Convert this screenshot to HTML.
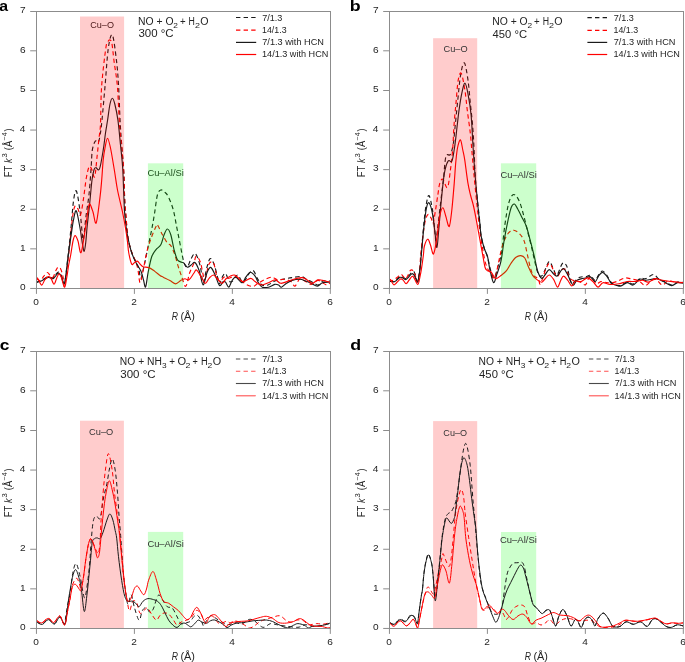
<!DOCTYPE html>
<html><head><meta charset="utf-8"><style>
html,body{margin:0;padding:0;background:#fff;overflow:hidden;}
svg{display:block;will-change:transform;font-family:"Liberation Sans", sans-serif;}
</style></head><body>
<svg width="685" height="662" viewBox="0 0 685 662">
<rect width="685" height="662" fill="#fff"/>
<clipPath id="c0_0"><rect x="36.5" y="11.5" width="294.0" height="277.0"/></clipPath>
<g clip-path="url(#c0_0)" fill="none" stroke-width="1.15" stroke-linejoin="round">
<path d="M36.50,282.50C37.13,282.25 39.08,281.58 40.30,281.00C41.52,280.42 42.53,279.70 43.80,279.00C45.07,278.30 46.73,277.05 47.90,276.80C49.07,276.55 49.93,277.33 50.80,277.50C51.67,277.67 52.32,278.22 53.10,277.80C53.88,277.38 54.62,275.97 55.50,275.00C56.38,274.03 57.43,271.92 58.40,272.00C59.37,272.08 60.37,273.50 61.30,275.50C62.23,277.50 63.30,283.58 64.00,284.00C64.70,284.42 65.00,281.17 65.50,278.00C66.00,274.83 66.50,269.33 67.00,265.00C67.50,260.67 67.83,258.17 68.50,252.00C69.17,245.83 70.17,236.50 71.00,228.00C71.83,219.50 72.62,207.18 73.50,201.00C74.38,194.82 75.23,189.37 76.30,190.90C77.37,192.43 78.90,203.02 79.90,210.20C80.90,217.38 81.70,229.20 82.30,234.00C82.90,238.80 82.88,241.97 83.50,239.00C84.12,236.03 85.08,223.62 86.00,216.20C86.92,208.78 88.15,202.48 89.00,194.50C89.85,186.52 90.55,175.68 91.10,168.30C91.65,160.92 91.60,154.73 92.30,150.20C93.00,145.67 94.30,142.42 95.30,141.10C96.30,139.78 97.48,143.40 98.30,142.30C99.12,141.20 99.58,138.22 100.20,134.50C100.82,130.78 101.20,127.98 102.00,120.00C102.80,112.02 103.95,98.55 105.00,86.60C106.05,74.65 107.07,56.90 108.30,48.30C109.53,39.70 111.02,32.78 112.40,35.00C113.78,37.22 115.57,53.00 116.60,61.60C117.63,70.20 118.00,76.37 118.60,86.60C119.20,96.83 119.62,112.40 120.20,123.00C120.78,133.60 121.48,141.65 122.10,150.20C122.72,158.75 123.47,166.00 123.90,174.30C124.33,182.60 124.35,192.72 124.70,200.00C125.05,207.28 125.45,211.67 126.00,218.00C126.55,224.33 127.07,232.33 128.00,238.00C128.93,243.67 130.28,248.00 131.60,252.00C132.92,256.00 134.72,259.28 135.90,262.00C137.08,264.72 137.87,265.58 138.70,268.30C139.53,271.02 139.93,279.02 140.90,278.30C141.87,277.58 143.30,269.27 144.50,264.00C145.70,258.73 146.90,252.45 148.10,246.70C149.30,240.95 150.63,235.00 151.70,229.50C152.77,224.00 153.55,219.45 154.50,213.70C155.45,207.95 156.35,198.95 157.40,195.00C158.45,191.05 159.62,190.50 160.80,190.00C161.98,189.50 163.25,190.90 164.50,192.00C165.75,193.10 166.83,193.62 168.30,196.60C169.77,199.58 171.92,204.92 173.30,209.90C174.68,214.88 175.50,220.97 176.60,226.50C177.70,232.03 178.80,237.57 179.90,243.10C181.00,248.63 182.23,255.82 183.20,259.70C184.17,263.58 184.87,265.43 185.70,266.40C186.53,267.37 187.32,266.73 188.20,265.50C189.08,264.27 189.80,260.97 191.00,259.00C192.20,257.03 193.85,252.48 195.40,253.70C196.95,254.92 199.02,261.47 200.30,266.30C201.58,271.13 202.00,282.52 203.10,282.70C204.20,282.88 205.72,271.42 206.90,267.40C208.08,263.38 209.02,259.15 210.20,258.60C211.38,258.05 212.82,261.18 214.00,264.10C215.18,267.02 216.38,272.82 217.30,276.10C218.22,279.38 218.68,283.62 219.50,283.80C220.32,283.98 221.20,278.93 222.20,277.20C223.20,275.47 224.40,272.85 225.50,273.40C226.60,273.95 227.70,279.13 228.80,280.50C229.90,281.87 230.63,282.52 232.10,281.60C233.57,280.68 235.78,274.90 237.60,275.00C239.42,275.10 241.00,282.55 243.00,282.20C245.00,281.85 247.85,274.82 249.60,272.90C251.35,270.98 252.22,269.80 253.50,270.70C254.78,271.60 255.88,275.92 257.30,278.30C258.72,280.68 260.22,283.88 262.00,285.00C263.78,286.12 265.83,285.67 268.00,285.00C270.17,284.33 272.12,282.03 275.00,281.00C277.88,279.97 282.45,279.37 285.30,278.80C288.15,278.23 289.47,277.98 292.10,277.60C294.73,277.22 298.67,276.22 301.10,276.50C303.53,276.78 304.65,278.27 306.70,279.30C308.75,280.33 311.52,281.75 313.40,282.70C315.28,283.65 316.40,285.28 318.00,285.00C319.60,284.72 321.03,281.67 323.00,281.00C324.97,280.33 328.67,281.00 329.80,281.00" stroke="#1a1a1a" stroke-dasharray="4.3 3.1"/>
<path d="M36.50,278.40C37.13,278.78 39.08,281.08 40.30,280.70C41.52,280.32 42.63,277.47 43.80,276.10C44.97,274.73 46.23,272.60 47.30,272.50C48.37,272.40 49.23,274.72 50.20,275.50C51.17,276.28 52.13,278.08 53.10,277.20C54.07,276.32 55.17,271.85 56.00,270.20C56.83,268.55 57.32,267.50 58.10,267.30C58.88,267.10 59.87,267.35 60.70,269.00C61.53,270.65 62.47,274.27 63.10,277.20C63.73,280.13 63.92,287.38 64.50,286.60C65.08,285.82 65.97,277.28 66.60,272.50C67.23,267.72 67.57,264.65 68.30,257.90C69.03,251.15 70.22,239.32 71.00,232.00C71.78,224.68 72.32,218.33 73.00,214.00C73.68,209.67 74.27,206.83 75.10,206.00C75.93,205.17 77.10,207.50 78.00,209.00C78.90,210.50 79.57,216.83 80.50,215.00C81.43,213.17 82.63,204.17 83.60,198.00C84.57,191.83 85.35,183.25 86.30,178.00C87.25,172.75 88.35,167.83 89.30,166.50C90.25,165.17 91.10,168.28 92.00,170.00C92.90,171.72 93.85,179.10 94.70,176.80C95.55,174.50 96.38,162.65 97.10,156.20C97.82,149.75 98.43,143.47 99.00,138.10C99.57,132.73 100.07,132.58 100.50,124.00C100.93,115.42 100.72,99.22 101.60,86.60C102.48,73.98 104.75,55.77 105.80,48.30C106.85,40.83 107.22,43.18 107.90,41.80C108.58,40.42 109.23,39.72 109.90,40.00C110.57,40.28 111.20,39.90 111.90,43.50C112.60,47.10 113.18,54.42 114.10,61.60C115.02,68.78 116.48,75.78 117.40,86.60C118.32,97.42 118.83,115.93 119.60,126.50C120.37,137.07 121.28,142.03 122.00,150.00C122.72,157.97 123.45,165.97 123.90,174.30C124.35,182.63 124.35,193.05 124.70,200.00C125.05,206.95 125.45,209.67 126.00,216.00C126.55,222.33 127.07,232.00 128.00,238.00C128.93,244.00 130.28,248.00 131.60,252.00C132.92,256.00 134.83,259.00 135.90,262.00C136.97,265.00 137.28,266.57 138.00,270.00C138.72,273.43 139.23,283.13 140.20,282.60C141.17,282.07 142.60,272.30 143.80,266.80C145.00,261.30 146.08,254.62 147.40,249.60C148.72,244.58 150.27,240.53 151.70,236.70C153.13,232.87 155.03,228.57 156.00,226.60C156.97,224.63 156.42,223.53 157.50,224.90C158.58,226.27 160.85,231.77 162.50,234.80C164.15,237.83 166.02,241.30 167.40,243.10C168.78,244.90 169.55,243.65 170.80,245.60C172.05,247.55 173.67,251.33 174.90,254.80C176.13,258.27 177.08,262.82 178.20,266.40C179.32,269.98 180.35,272.98 181.60,276.30C182.85,279.62 184.37,286.85 185.70,286.30C187.03,285.75 188.22,276.87 189.60,273.00C190.98,269.13 192.93,265.87 194.00,263.10C195.07,260.33 194.95,256.60 196.00,256.40C197.05,256.20 198.85,258.07 200.30,261.90C201.75,265.73 203.33,278.85 204.70,279.40C206.07,279.95 207.40,268.12 208.50,265.20C209.60,262.28 210.38,262.08 211.30,261.90C212.22,261.72 213.08,261.73 214.00,264.10C214.92,266.47 215.80,273.18 216.80,276.10C217.80,279.02 218.82,281.42 220.00,281.60C221.18,281.78 222.43,277.75 223.90,277.20C225.37,276.65 227.07,278.48 228.80,278.30C230.53,278.12 232.47,275.92 234.30,276.10C236.13,276.28 237.80,278.02 239.80,279.40C241.80,280.78 244.12,283.22 246.30,284.40C248.48,285.58 251.07,286.60 252.90,286.50C254.73,286.40 255.45,284.90 257.30,283.80C259.15,282.70 261.57,281.02 264.00,279.90C266.43,278.78 269.65,277.10 271.90,277.10C274.15,277.10 275.45,279.53 277.50,279.90C279.55,280.27 281.95,279.02 284.20,279.30C286.45,279.58 289.22,280.47 291.00,281.60C292.78,282.73 293.40,286.57 294.90,286.10C296.40,285.63 298.22,279.55 300.00,278.80C301.78,278.05 303.73,280.67 305.60,281.60C307.47,282.53 309.15,284.60 311.20,284.40C313.25,284.20 316.03,280.68 317.90,280.40C319.77,280.12 320.90,281.93 322.40,282.70C323.90,283.47 325.67,284.95 326.90,285.00C328.13,285.05 329.32,283.33 329.80,283.00" stroke="#ff0000" stroke-dasharray="4.3 3.1"/>
<path d="M36.50,281.90C37.13,281.80 39.08,281.68 40.30,281.30C41.52,280.92 42.53,280.23 43.80,279.60C45.07,278.97 46.73,277.75 47.90,277.50C49.07,277.25 49.93,277.90 50.80,278.10C51.67,278.30 52.32,279.03 53.10,278.70C53.88,278.37 54.62,277.03 55.50,276.10C56.38,275.17 57.43,273.02 58.40,273.10C59.37,273.18 60.38,274.83 61.30,276.60C62.22,278.37 63.22,283.40 63.90,283.70C64.58,284.00 64.90,281.23 65.40,278.40C65.90,275.57 66.42,270.60 66.90,266.70C67.38,262.80 67.62,260.12 68.30,255.00C68.98,249.88 70.13,241.83 71.00,236.00C71.87,230.17 72.62,224.20 73.50,220.00C74.38,215.80 75.22,209.47 76.30,210.80C77.38,212.13 78.97,222.47 80.00,228.00C81.03,233.53 81.80,240.12 82.50,244.00C83.20,247.88 83.65,251.63 84.20,251.30C84.75,250.97 85.30,246.23 85.80,242.00C86.30,237.77 86.57,232.20 87.20,225.90C87.83,219.60 88.80,211.85 89.60,204.20C90.40,196.55 91.25,185.78 92.00,180.00C92.75,174.22 93.45,171.55 94.10,169.50C94.75,167.45 95.00,167.80 95.90,167.70C96.80,167.60 98.28,171.82 99.50,168.90C100.72,165.98 102.20,156.18 103.20,150.20C104.20,144.22 104.77,138.03 105.50,133.00C106.23,127.97 106.85,124.83 107.60,120.00C108.35,115.17 109.20,107.63 110.00,104.00C110.80,100.37 111.60,98.20 112.40,98.20C113.20,98.20 113.88,100.37 114.80,104.00C115.72,107.63 116.95,113.17 117.90,120.00C118.85,126.83 119.70,136.95 120.50,145.00C121.30,153.05 122.05,157.57 122.70,168.30C123.35,179.03 123.85,199.78 124.40,209.40C124.95,219.02 125.40,221.22 126.00,226.00C126.60,230.78 127.07,233.68 128.00,238.10C128.93,242.52 130.28,248.43 131.60,252.50C132.92,256.57 134.35,259.40 135.90,262.50C137.45,265.60 139.63,268.18 140.90,271.10C142.17,274.02 142.72,277.35 143.50,280.00C144.28,282.65 144.83,288.23 145.60,287.00C146.37,285.77 147.08,277.63 148.10,272.60C149.12,267.57 150.38,260.63 151.70,256.80C153.02,252.97 154.48,251.60 156.00,249.60C157.52,247.60 159.45,247.27 160.80,244.80C162.15,242.33 163.00,237.43 164.10,234.80C165.20,232.17 166.28,229.00 167.40,229.00C168.52,229.00 169.68,231.33 170.80,234.80C171.92,238.27 173.00,245.65 174.10,249.80C175.20,253.95 176.15,257.63 177.40,259.70C178.65,261.77 180.50,261.63 181.60,262.20C182.70,262.77 183.03,262.27 184.00,263.10C184.97,263.93 186.15,266.93 187.40,267.20C188.65,267.47 190.25,265.48 191.50,264.70C192.75,263.92 193.62,261.50 194.90,262.50C196.18,263.50 197.83,266.97 199.20,270.70C200.57,274.43 201.82,284.53 203.10,284.90C204.38,285.27 205.63,275.82 206.90,272.90C208.17,269.98 209.33,267.05 210.70,267.40C212.07,267.75 213.63,271.98 215.10,275.00C216.57,278.02 218.13,284.40 219.50,285.50C220.87,286.60 222.30,282.15 223.30,281.60C224.30,281.05 224.58,281.28 225.50,282.20C226.42,283.12 227.70,287.38 228.80,287.10C229.90,286.82 230.92,282.15 232.10,280.50C233.28,278.85 234.25,276.83 235.90,277.20C237.55,277.57 240.35,282.70 242.00,282.70C243.65,282.70 244.43,278.93 245.80,277.20C247.17,275.47 248.65,272.48 250.20,272.30C251.75,272.12 253.73,274.37 255.10,276.10C256.47,277.83 257.20,280.85 258.40,282.70C259.60,284.55 260.62,286.45 262.30,287.20C263.98,287.95 266.43,287.67 268.50,287.20C270.57,286.73 273.02,284.77 274.70,284.40C276.38,284.03 277.48,284.53 278.60,285.00C279.72,285.47 280.08,287.48 281.40,287.20C282.72,286.92 284.72,284.43 286.50,283.30C288.28,282.17 289.85,281.07 292.10,280.40C294.35,279.73 297.75,279.20 300.00,279.30C302.25,279.40 303.73,280.33 305.60,281.00C307.47,281.67 309.23,282.45 311.20,283.30C313.17,284.15 315.53,286.20 317.40,286.10C319.27,286.00 320.33,283.37 322.40,282.70C324.47,282.03 328.57,282.20 329.80,282.10" stroke="#1a1a1a"/>
<path d="M36.50,277.20C36.83,277.60 37.63,278.28 38.50,279.60C39.37,280.92 40.63,285.10 41.70,285.10C42.77,285.10 43.82,281.02 44.90,279.60C45.98,278.18 47.22,276.90 48.20,276.60C49.18,276.30 49.83,276.53 50.80,277.80C51.77,279.07 53.03,284.10 54.00,284.20C54.97,284.30 55.77,280.15 56.60,278.40C57.43,276.65 58.22,273.90 59.00,273.70C59.78,273.50 60.38,274.95 61.30,277.20C62.22,279.45 63.62,287.00 64.50,287.20C65.38,287.40 65.92,282.02 66.60,278.40C67.28,274.78 67.92,269.40 68.60,265.50C69.28,261.60 69.97,259.08 70.70,255.00C71.43,250.92 72.27,244.23 73.00,241.00C73.73,237.77 74.27,235.60 75.10,235.60C75.93,235.60 77.00,238.18 78.00,241.00C79.00,243.82 79.87,254.62 81.10,252.50C82.33,250.38 84.18,235.75 85.40,228.30C86.62,220.85 87.63,211.82 88.40,207.80C89.17,203.78 89.23,203.50 90.00,204.20C90.77,204.90 91.97,208.88 93.00,212.00C94.03,215.12 95.05,225.22 96.20,222.90C97.35,220.58 98.98,205.25 99.90,198.10C100.82,190.95 101.15,186.37 101.70,180.00C102.25,173.63 102.65,165.23 103.20,159.90C103.75,154.57 104.28,151.62 105.00,148.00C105.72,144.38 106.58,138.20 107.50,138.20C108.42,138.20 109.33,142.53 110.50,148.00C111.67,153.47 113.33,164.00 114.50,171.00C115.67,178.00 116.17,183.17 117.50,190.00C118.83,196.83 121.17,205.67 122.50,212.00C123.83,218.33 124.67,223.00 125.50,228.00C126.33,233.00 126.97,237.92 127.50,242.00C128.03,246.08 128.02,248.83 128.70,252.50C129.38,256.17 130.72,262.25 131.60,264.00C132.48,265.75 133.05,263.48 134.00,263.00C134.95,262.52 136.30,260.93 137.30,261.10C138.30,261.27 139.05,263.05 140.00,264.00C140.95,264.95 141.53,266.20 143.00,266.80C144.47,267.40 146.88,266.88 148.80,267.60C150.72,268.32 152.63,269.78 154.50,271.10C156.37,272.42 158.53,274.48 160.00,275.50C161.47,276.52 161.65,276.37 163.30,277.20C164.95,278.03 167.83,279.40 169.90,280.50C171.97,281.60 173.90,283.80 175.70,283.80C177.50,283.80 179.17,281.33 180.70,280.50C182.23,279.67 183.52,278.93 184.90,278.80C186.28,278.67 187.48,280.67 189.00,279.70C190.52,278.73 192.75,274.60 194.00,273.00C195.25,271.40 195.27,269.40 196.50,270.10C197.73,270.80 199.93,275.00 201.40,277.20C202.87,279.40 204.02,283.12 205.30,283.30C206.58,283.48 207.73,279.68 209.10,278.30C210.47,276.92 212.03,274.82 213.50,275.00C214.97,275.18 216.45,278.02 217.90,279.40C219.35,280.78 220.75,283.48 222.20,283.30C223.65,283.12 224.58,279.68 226.60,278.30C228.62,276.92 231.92,274.63 234.30,275.00C236.68,275.37 239.35,279.40 240.90,280.50C242.45,281.60 241.97,281.97 243.60,281.60C245.23,281.23 248.80,278.30 250.70,278.30C252.60,278.30 253.17,280.48 255.00,281.60C256.83,282.72 259.45,284.82 261.70,285.00C263.95,285.18 266.25,283.55 268.50,282.70C270.75,281.85 273.15,279.80 275.20,279.90C277.25,280.00 278.55,283.12 280.80,283.30C283.05,283.48 286.27,281.75 288.70,281.00C291.13,280.25 293.15,279.37 295.40,278.80C297.65,278.23 300.13,277.33 302.20,277.60C304.27,277.87 306.12,279.45 307.80,280.40C309.48,281.35 310.62,283.38 312.30,283.30C313.98,283.22 316.22,280.38 317.90,279.90C319.58,279.42 320.42,280.03 322.40,280.40C324.38,280.77 328.57,281.82 329.80,282.10" stroke="#ff0000"/>
</g>
<text x="-0.78" y="11.00" font-size="15.00" font-weight="bold" fill="#000" textLength="8.81" lengthAdjust="spacingAndGlyphs">a</text>
<text x="90.25" y="27.90" font-size="8.80" fill="#242424" textLength="23.68" lengthAdjust="spacingAndGlyphs">Cu–O</text>
<text x="147.43" y="175.70" font-size="9.00" fill="#242424" textLength="36.38" lengthAdjust="spacingAndGlyphs">Cu–Al/Si</text>
<rect x="80" y="16.5" width="44.1" height="271.9" fill="rgba(255,0,0,0.2)"/>
<rect x="147.9" y="163.3" width="35.3" height="125.1" fill="rgba(0,255,0,0.2)"/>
<line x1="236.0" y1="17.5" x2="256.2" y2="17.5" stroke="#1a1a1a" stroke-width="1.20" stroke-dasharray="4.4 3.2"/>
<text x="262.25" y="21.00" font-size="9.20" fill="#242424" textLength="20.15" lengthAdjust="spacingAndGlyphs">7/1.3</text>
<line x1="236.0" y1="30.2" x2="256.2" y2="30.2" stroke="#ff0000" stroke-width="1.20" stroke-dasharray="4.4 3.2"/>
<text x="262.04" y="33.30" font-size="9.20" fill="#242424" textLength="24.56" lengthAdjust="spacingAndGlyphs">14/1.3</text>
<line x1="236.0" y1="42.4" x2="256.2" y2="42.4" stroke="#1a1a1a" stroke-width="1.20"/>
<text x="262.24" y="45.20" font-size="9.20" fill="#242424" textLength="61.69" lengthAdjust="spacingAndGlyphs">7/1.3 with HCN</text>
<line x1="236.0" y1="54.5" x2="256.2" y2="54.5" stroke="#ff0000" stroke-width="1.20"/>
<text x="262.02" y="57.30" font-size="9.20" fill="#242424" textLength="66.32" lengthAdjust="spacingAndGlyphs">14/1.3 with HCN</text>
<text x="138.07" y="25.00" font-size="10.00" fill="#242424" textLength="35.52" lengthAdjust="spacingAndGlyphs">NO + O</text>
<text x="173.38" y="28.00" font-size="6.30" fill="#242424" textLength="4.64" lengthAdjust="spacingAndGlyphs">2</text>
<text x="180.02" y="25.00" font-size="10.00" fill="#242424" textLength="5.66" lengthAdjust="spacingAndGlyphs">+</text>
<text x="188.60" y="25.00" font-size="10.00" fill="#242424" textLength="6.32" lengthAdjust="spacingAndGlyphs">H</text>
<text x="194.95" y="28.00" font-size="6.30" fill="#242424" textLength="5.01" lengthAdjust="spacingAndGlyphs">2</text>
<text x="200.22" y="25.00" font-size="10.00" fill="#242424" textLength="8.29" lengthAdjust="spacingAndGlyphs">O</text>
<text x="138.44" y="37.30" font-size="10.20" fill="#242424" textLength="35.16" lengthAdjust="spacingAndGlyphs">300 °C</text>
<g stroke="#8c8c8c" stroke-width="1" fill="none">
<rect x="36.5" y="11.5" width="294.0" height="277.0"/>
<line x1="30.2" y1="248.85" x2="36.5" y2="248.85"/>
<line x1="30.2" y1="209.25" x2="36.5" y2="209.25"/>
<line x1="30.2" y1="169.65" x2="36.5" y2="169.65"/>
<line x1="30.2" y1="130.05" x2="36.5" y2="130.05"/>
<line x1="30.2" y1="90.50" x2="36.5" y2="90.50"/>
<line x1="30.2" y1="50.80" x2="36.5" y2="50.80"/>
<line x1="30.2" y1="288.45" x2="36.5" y2="288.45"/>
<line x1="30.2" y1="11.50" x2="36.5" y2="11.50"/>
<line x1="36.45" y1="288.5" x2="36.45" y2="293.9"/>
<line x1="134.40" y1="288.5" x2="134.40" y2="293.9"/>
<line x1="232.35" y1="288.5" x2="232.35" y2="293.9"/>
<line x1="330.30" y1="288.5" x2="330.30" y2="293.9"/>
</g>
<text x="19.99" y="290.17" font-size="9.20" fill="#242424" textLength="5.63" lengthAdjust="spacingAndGlyphs">0</text>
<text x="20.09" y="250.57" font-size="9.20" fill="#242424" textLength="5.63" lengthAdjust="spacingAndGlyphs">1</text>
<text x="20.09" y="210.97" font-size="9.20" fill="#242424" textLength="5.63" lengthAdjust="spacingAndGlyphs">2</text>
<text x="20.04" y="171.37" font-size="9.20" fill="#242424" textLength="5.63" lengthAdjust="spacingAndGlyphs">3</text>
<text x="19.89" y="131.77" font-size="9.20" fill="#242424" textLength="5.63" lengthAdjust="spacingAndGlyphs">4</text>
<text x="19.99" y="92.22" font-size="9.20" fill="#242424" textLength="5.63" lengthAdjust="spacingAndGlyphs">5</text>
<text x="20.04" y="52.52" font-size="9.20" fill="#242424" textLength="5.63" lengthAdjust="spacingAndGlyphs">6</text>
<text x="20.09" y="13.22" font-size="9.20" fill="#242424" textLength="5.63" lengthAdjust="spacingAndGlyphs">7</text>
<text x="33.34" y="304.70" font-size="9.20" fill="#242424" textLength="5.63" lengthAdjust="spacingAndGlyphs">0</text>
<text x="131.29" y="304.70" font-size="9.20" fill="#242424" textLength="5.63" lengthAdjust="spacingAndGlyphs">2</text>
<text x="229.27" y="304.70" font-size="9.20" fill="#242424" textLength="5.63" lengthAdjust="spacingAndGlyphs">4</text>
<text x="327.17" y="304.70" font-size="9.20" fill="#242424" textLength="5.63" lengthAdjust="spacingAndGlyphs">6</text>
<text x="171.64" y="319.70" font-size="10.00" font-style="italic" fill="#242424" textLength="6.24" lengthAdjust="spacingAndGlyphs">R</text>
<text x="180.45" y="319.70" font-size="10.00" fill="#242424" textLength="14.54" lengthAdjust="spacingAndGlyphs">(Å)</text>
<g transform="translate(11.80,0.00) rotate(-90)">
<text x="-177.36" y="0.00" font-size="10.00" fill="#242424" textLength="11.56" lengthAdjust="spacingAndGlyphs">FT</text>
<text x="-162.94" y="0.00" font-size="10.00" font-style="italic" fill="#242424" textLength="4.57" lengthAdjust="spacingAndGlyphs">k</text>
<text x="-157.51" y="-5.00" font-size="6.80" fill="#242424" textLength="4.26" lengthAdjust="spacingAndGlyphs">3</text>
<text x="-150.16" y="0.00" font-size="10.00" fill="#242424" textLength="9.36" lengthAdjust="spacingAndGlyphs">(Å</text>
<text x="-140.25" y="-5.00" font-size="6.80" fill="#242424" textLength="7.96" lengthAdjust="spacingAndGlyphs">−4</text>
<text x="-131.39" y="0.00" font-size="10.00" fill="#242424" textLength="3.07" lengthAdjust="spacingAndGlyphs">)</text>
</g>
<clipPath id="c353_0"><rect x="389.5" y="11.5" width="294.0" height="277.0"/></clipPath>
<g clip-path="url(#c353_0)" fill="none" stroke-width="1.15" stroke-linejoin="round">
<path d="M389.50,281.00C390.22,281.08 392.58,281.75 393.80,281.50C395.02,281.25 395.82,280.33 396.80,279.50C397.78,278.67 398.83,277.00 399.70,276.50C400.57,276.00 401.03,276.15 402.00,276.50C402.97,276.85 404.42,278.68 405.50,278.60C406.58,278.52 407.23,277.20 408.50,276.00C409.77,274.80 412.02,271.73 413.10,271.40C414.18,271.07 414.27,272.32 415.00,274.00C415.73,275.68 416.83,281.33 417.50,281.50C418.17,281.67 418.55,277.58 419.00,275.00C419.45,272.42 419.82,269.50 420.20,266.00C420.58,262.50 420.67,261.33 421.30,254.00C421.93,246.67 423.13,230.50 424.00,222.00C424.87,213.50 425.65,207.38 426.50,203.00C427.35,198.62 428.10,194.53 429.10,195.70C430.10,196.87 431.53,203.95 432.50,210.00C433.47,216.05 434.32,227.00 434.90,232.00C435.48,237.00 435.48,241.17 436.00,240.00C436.52,238.83 437.07,232.58 438.00,225.00C438.93,217.42 440.70,202.00 441.60,194.50C442.50,187.00 442.68,186.32 443.40,180.00C444.12,173.68 444.73,160.87 445.90,156.60C447.07,152.33 449.15,156.67 450.40,154.40C451.65,152.13 452.60,147.82 453.40,143.00C454.20,138.18 454.52,132.18 455.20,125.50C455.88,118.82 456.62,111.20 457.50,102.90C458.38,94.60 459.37,82.38 460.50,75.70C461.63,69.02 463.05,62.05 464.30,62.80C465.55,63.55 467.00,73.52 468.00,80.20C469.00,86.88 469.53,95.35 470.30,102.90C471.07,110.45 471.97,117.65 472.60,125.50C473.23,133.35 473.65,141.28 474.10,150.00C474.55,158.72 474.60,168.13 475.30,177.80C476.00,187.47 477.55,200.63 478.30,208.00C479.05,215.37 479.33,217.37 479.80,222.00C480.27,226.63 480.35,231.38 481.10,235.80C481.85,240.22 483.23,244.97 484.30,248.50C485.37,252.03 486.55,253.75 487.50,257.00C488.45,260.25 489.17,264.83 490.00,268.00C490.83,271.17 491.73,274.48 492.50,276.00C493.27,277.52 493.58,279.03 494.60,277.10C495.62,275.17 497.42,268.63 498.60,264.40C499.78,260.17 500.65,258.32 501.70,251.70C502.75,245.08 503.70,232.90 504.90,224.70C506.10,216.50 507.43,207.53 508.90,202.50C510.37,197.47 511.98,194.77 513.70,194.50C515.42,194.23 517.48,197.20 519.20,200.90C520.92,204.60 522.55,211.42 524.00,216.70C525.45,221.98 526.58,227.30 527.90,232.60C529.22,237.90 530.70,243.47 531.90,248.50C533.10,253.53 534.03,258.57 535.10,262.80C536.17,267.03 537.22,271.70 538.30,273.90C539.38,276.10 540.48,276.65 541.60,276.00C542.72,275.35 543.73,272.43 545.00,270.00C546.27,267.57 547.87,261.73 549.20,261.40C550.53,261.07 551.72,265.73 553.00,268.00C554.28,270.27 555.33,275.75 556.90,275.00C558.47,274.25 560.75,264.95 562.40,263.50C564.05,262.05 565.35,263.10 566.80,266.30C568.25,269.50 569.73,280.25 571.10,282.70C572.47,285.15 573.53,281.92 575.00,281.00C576.47,280.08 577.98,277.95 579.90,277.20C581.82,276.45 584.77,276.78 586.50,276.50C588.23,276.22 588.85,274.83 590.30,275.50C591.75,276.17 593.83,280.58 595.20,280.50C596.57,280.42 597.30,276.58 598.50,275.00C599.70,273.42 601.03,271.00 602.40,271.00C603.77,271.00 605.43,273.33 606.70,275.00C607.97,276.67 608.78,279.42 610.00,281.00C611.22,282.58 612.30,283.75 614.00,284.50C615.70,285.25 618.00,285.92 620.20,285.50C622.40,285.08 625.07,282.25 627.20,282.00C629.33,281.75 630.87,284.58 633.00,284.00C635.13,283.42 637.85,279.40 640.00,278.50C642.15,277.60 643.65,279.27 645.90,278.60C648.15,277.93 651.37,274.42 653.50,274.50C655.63,274.58 657.05,278.02 658.70,279.10C660.35,280.18 661.25,280.02 663.40,281.00C665.55,281.98 669.27,284.83 671.60,285.00C673.93,285.17 675.47,282.42 677.40,282.00C679.33,281.58 682.23,282.42 683.20,282.50" stroke="#1a1a1a" stroke-dasharray="4.3 3.1"/>
<path d="M389.50,279.00C389.83,279.28 390.68,280.60 391.50,280.70C392.32,280.80 393.42,280.18 394.40,279.60C395.38,279.02 396.32,278.08 397.40,277.20C398.48,276.32 399.93,274.45 400.90,274.30C401.87,274.15 402.43,275.52 403.20,276.30C403.97,277.08 404.72,279.13 405.50,279.00C406.28,278.87 407.07,276.97 407.90,275.50C408.73,274.03 409.53,270.88 410.50,270.20C411.47,269.52 412.77,270.03 413.70,271.40C414.63,272.77 415.47,276.65 416.10,278.40C416.73,280.15 416.92,282.88 417.50,281.90C418.08,280.92 419.07,276.98 419.60,272.50C420.13,268.02 420.13,261.25 420.70,255.00C421.27,248.75 422.20,240.83 423.00,235.00C423.80,229.17 424.62,223.43 425.50,220.00C426.38,216.57 427.33,214.63 428.30,214.40C429.27,214.17 430.50,217.08 431.30,218.60C432.10,220.12 432.40,224.90 433.10,223.50C433.80,222.10 434.70,215.03 435.50,210.20C436.30,205.37 437.20,198.93 437.90,194.50C438.60,190.07 438.88,186.13 439.70,183.60C440.52,181.07 441.52,178.63 442.80,179.30C444.08,179.97 446.13,189.12 447.40,187.60C448.67,186.08 449.52,176.62 450.40,170.20C451.28,163.78 452.10,156.55 452.70,149.10C453.30,141.65 453.45,133.20 454.00,125.50C454.55,117.80 455.30,110.45 456.00,102.90C456.70,95.35 457.32,85.12 458.20,80.20C459.08,75.28 460.17,71.63 461.30,73.40C462.43,75.17 464.00,84.63 465.00,90.80C466.00,96.97 466.42,103.35 467.30,110.40C468.18,117.45 469.55,126.50 470.30,133.10C471.05,139.70 471.18,143.02 471.80,150.00C472.42,156.98 473.13,165.83 474.00,175.00C474.87,184.17 476.08,196.18 477.00,205.00C477.92,213.82 478.58,220.73 479.50,227.90C480.42,235.07 481.43,241.92 482.50,248.00C483.57,254.08 484.55,260.08 485.90,264.40C487.25,268.72 489.28,271.52 490.60,273.90C491.92,276.28 492.87,278.70 493.80,278.70C494.73,278.70 495.53,276.02 496.20,273.90C496.87,271.78 496.88,270.23 497.80,266.00C498.72,261.77 500.38,253.27 501.70,248.50C503.02,243.73 504.37,240.18 505.70,237.40C507.03,234.62 508.37,233.00 509.70,231.80C511.03,230.60 512.12,229.93 513.70,230.20C515.28,230.47 517.48,231.67 519.20,233.40C520.92,235.13 522.68,237.28 524.00,240.60C525.32,243.92 526.05,248.82 527.10,253.30C528.15,257.78 529.23,263.80 530.30,267.50C531.37,271.20 532.17,273.63 533.50,275.50C534.83,277.37 537.13,277.32 538.30,278.70C539.47,280.08 539.22,285.50 540.50,283.80C541.78,282.10 544.45,271.88 546.00,268.50C547.55,265.12 548.53,263.13 549.80,263.50C551.07,263.87 552.42,268.42 553.60,270.70C554.78,272.98 555.62,277.30 556.90,277.20C558.18,277.10 559.83,271.37 561.30,270.10C562.77,268.83 564.25,268.23 565.70,269.60C567.15,270.97 568.45,276.40 570.00,278.30C571.55,280.20 573.33,280.38 575.00,281.00C576.67,281.62 578.27,281.35 580.00,282.00C581.73,282.65 583.95,285.52 585.40,284.90C586.85,284.28 587.60,279.48 588.70,278.30C589.80,277.12 590.73,276.88 592.00,277.80C593.27,278.72 594.85,283.17 596.30,283.80C597.75,284.43 599.23,281.87 600.70,281.60C602.17,281.33 603.55,281.97 605.10,282.20C606.65,282.43 608.07,283.12 610.00,283.00C611.93,282.88 614.22,282.33 616.70,281.50C619.18,280.67 622.37,278.40 624.90,278.00C627.43,277.60 629.57,278.62 631.90,279.10C634.23,279.58 636.67,279.82 638.90,280.90C641.13,281.98 643.17,285.70 645.30,285.60C647.43,285.50 649.85,281.28 651.70,280.30C653.55,279.32 654.65,278.92 656.40,279.70C658.15,280.48 660.25,284.80 662.20,285.00C664.15,285.20 665.95,281.38 668.10,280.90C670.25,280.42 672.58,281.72 675.10,282.10C677.62,282.48 681.85,283.02 683.20,283.20" stroke="#ff0000" stroke-dasharray="4.3 3.1"/>
<path d="M389.50,281.30C390.22,281.40 392.58,282.10 393.80,281.90C395.02,281.70 395.82,280.83 396.80,280.10C397.78,279.37 398.83,277.93 399.70,277.50C400.57,277.07 401.03,277.15 402.00,277.50C402.97,277.85 404.42,279.65 405.50,279.60C406.58,279.55 407.42,278.18 408.50,277.20C409.58,276.22 411.03,273.98 412.00,273.70C412.97,273.42 413.38,274.08 414.30,275.50C415.22,276.92 416.72,282.20 417.50,282.20C418.28,282.20 418.55,278.08 419.00,275.50C419.45,272.92 419.82,270.12 420.20,266.70C420.58,263.28 420.67,261.80 421.30,255.00C421.93,248.20 423.13,233.77 424.00,225.90C424.87,218.03 425.65,211.63 426.50,207.80C427.35,203.97 428.10,201.90 429.10,202.90C430.10,203.90 431.53,208.95 432.50,213.80C433.47,218.65 434.17,226.38 434.90,232.00C435.63,237.62 436.25,248.00 436.90,247.50C437.55,247.00 438.07,236.85 438.80,229.00C439.53,221.15 440.37,209.70 441.30,200.40C442.23,191.10 443.27,179.75 444.40,173.20C445.53,166.65 446.85,163.12 448.10,161.10C449.35,159.08 450.85,163.20 451.90,161.10C452.95,159.00 453.72,152.67 454.40,148.50C455.08,144.33 455.23,142.45 456.00,136.10C456.77,129.75 458.00,117.70 459.00,110.40C460.00,103.10 461.00,96.83 462.00,92.30C463.00,87.77 464.00,82.95 465.00,83.20C466.00,83.45 466.98,88.50 468.00,93.80C469.02,99.10 470.23,105.80 471.10,115.00C471.97,124.20 472.50,138.53 473.20,149.00C473.90,159.47 474.45,167.63 475.30,177.80C476.15,187.97 477.55,202.47 478.30,210.00C479.05,217.53 479.33,218.70 479.80,223.00C480.27,227.30 480.35,231.55 481.10,235.80C481.85,240.05 483.23,245.07 484.30,248.50C485.37,251.93 486.58,252.97 487.50,256.40C488.42,259.83 488.80,264.73 489.80,269.10C490.80,273.47 492.30,281.80 493.50,282.60C494.70,283.40 495.75,277.47 497.00,273.90C498.25,270.33 499.82,266.75 501.00,261.20C502.18,255.65 502.92,247.48 504.10,240.60C505.28,233.72 506.90,225.47 508.10,219.90C509.30,214.33 510.25,209.85 511.30,207.20C512.35,204.55 513.35,203.73 514.40,204.00C515.45,204.27 516.27,206.42 517.60,208.80C518.93,211.18 520.95,215.38 522.40,218.30C523.85,221.22 524.98,222.58 526.30,226.30C527.62,230.02 528.97,235.58 530.30,240.60C531.63,245.62 533.10,251.38 534.30,256.40C535.50,261.42 536.28,267.05 537.50,270.70C538.72,274.35 540.37,277.58 541.60,278.30C542.83,279.02 543.63,276.45 544.90,275.00C546.17,273.55 547.75,269.77 549.20,269.60C550.65,269.43 552.32,272.92 553.60,274.00C554.88,275.08 555.80,276.47 556.90,276.10C558.00,275.73 559.10,273.07 560.20,271.80C561.30,270.53 562.32,268.13 563.50,268.50C564.68,268.87 565.75,271.27 567.30,274.00C568.85,276.73 571.25,283.82 572.80,284.90C574.35,285.98 575.23,281.50 576.60,280.50C577.97,279.50 579.35,279.35 581.00,278.90C582.65,278.45 584.95,278.17 586.50,277.80C588.05,277.43 588.85,276.07 590.30,276.70C591.75,277.33 593.83,281.70 595.20,281.60C596.57,281.50 597.30,277.65 598.50,276.10C599.70,274.55 601.03,272.30 602.40,272.30C603.77,272.30 605.43,274.55 606.70,276.10C607.97,277.65 609.12,280.32 610.00,281.60C610.88,282.88 610.30,283.05 612.00,283.80C613.70,284.55 617.67,286.30 620.20,286.10C622.73,285.90 625.07,282.78 627.20,282.60C629.33,282.42 630.87,285.58 633.00,285.00C635.13,284.42 637.85,279.88 640.00,279.10C642.15,278.32 643.17,280.38 645.90,280.30C648.63,280.22 653.48,278.40 656.40,278.60C659.32,278.80 660.87,280.33 663.40,281.50C665.93,282.67 669.27,285.42 671.60,285.60C673.93,285.78 675.47,283.00 677.40,282.60C679.33,282.20 682.23,283.10 683.20,283.20" stroke="#1a1a1a"/>
<path d="M389.50,279.60C389.73,279.68 390.18,279.23 390.90,280.10C391.62,280.97 392.82,284.40 393.80,284.80C394.78,285.20 395.67,283.47 396.80,282.50C397.93,281.53 399.53,279.40 400.60,279.00C401.67,278.60 402.28,279.32 403.20,280.10C404.12,280.88 405.12,283.70 406.10,283.70C407.08,283.70 408.07,281.33 409.10,280.10C410.13,278.87 411.43,276.58 412.30,276.30C413.17,276.02 413.38,277.03 414.30,278.40C415.22,279.77 416.87,284.70 417.80,284.50C418.73,284.30 419.27,279.97 419.90,277.20C420.53,274.43 421.02,271.60 421.60,267.90C422.18,264.20 422.93,258.65 423.40,255.00C423.87,251.35 423.68,248.63 424.40,246.00C425.12,243.37 426.68,239.37 427.70,239.20C428.72,239.03 429.53,242.53 430.50,245.00C431.47,247.47 432.48,254.83 433.50,254.00C434.52,253.17 435.58,246.17 436.60,240.00C437.62,233.83 438.57,222.37 439.60,217.00C440.63,211.63 441.77,207.93 442.80,207.80C443.83,207.67 444.73,213.08 445.80,216.20C446.87,219.32 448.20,227.50 449.20,226.50C450.20,225.50 450.97,217.35 451.80,210.20C452.63,203.05 453.55,191.47 454.20,183.60C454.85,175.73 455.15,168.93 455.70,163.00C456.25,157.07 456.72,151.85 457.50,148.00C458.28,144.15 459.52,139.57 460.40,139.90C461.28,140.23 462.08,146.72 462.80,150.00C463.52,153.28 463.87,154.22 464.70,159.60C465.53,164.98 466.83,176.40 467.80,182.30C468.77,188.20 469.55,191.05 470.50,195.00C471.45,198.95 472.50,201.67 473.50,206.00C474.50,210.33 475.50,215.75 476.50,221.00C477.50,226.25 478.47,231.87 479.50,237.50C480.53,243.13 481.77,249.80 482.70,254.80C483.63,259.80 484.30,264.85 485.10,267.50C485.90,270.15 486.58,270.03 487.50,270.70C488.42,271.37 489.55,270.57 490.60,271.50C491.65,272.43 492.87,275.10 493.80,276.30C494.73,277.50 495.00,278.83 496.20,278.70C497.40,278.57 499.28,276.83 501.00,275.50C502.72,274.17 504.78,272.82 506.50,270.70C508.22,268.58 509.72,265.05 511.30,262.80C512.88,260.55 514.42,258.40 516.00,257.20C517.58,256.00 519.33,255.47 520.80,255.60C522.27,255.73 523.48,256.02 524.80,258.00C526.12,259.98 527.38,264.58 528.70,267.50C530.02,270.42 531.37,273.52 532.70,275.50C534.03,277.48 535.22,278.28 536.70,279.40C538.18,280.52 540.22,282.27 541.60,282.20C542.98,282.13 543.73,280.20 545.00,279.00C546.27,277.80 547.77,274.93 549.20,275.00C550.63,275.07 552.22,277.38 553.60,279.40C554.98,281.42 556.32,286.92 557.50,287.10C558.68,287.28 559.70,282.33 560.70,280.50C561.70,278.67 562.30,276.10 563.50,276.10C564.70,276.10 566.53,278.85 567.90,280.50C569.27,282.15 570.43,285.90 571.70,286.00C572.97,286.10 573.95,281.83 575.50,281.10C577.05,280.37 578.98,282.15 581.00,281.60C583.02,281.05 585.60,277.80 587.60,277.80C589.60,277.80 591.27,280.05 593.00,281.60C594.73,283.15 596.35,286.92 598.00,287.10C599.65,287.28 600.90,283.15 602.90,282.70C604.90,282.25 607.32,284.22 610.00,284.40C612.68,284.58 616.13,284.28 619.00,283.80C621.87,283.32 624.47,281.88 627.20,281.50C629.93,281.12 632.87,281.70 635.40,281.50C637.93,281.30 640.27,280.20 642.40,280.30C644.53,280.40 646.07,282.38 648.20,282.10C650.33,281.82 652.87,278.90 655.20,278.60C657.53,278.30 659.67,279.82 662.20,280.30C664.73,280.78 667.87,281.20 670.40,281.50C672.93,281.80 675.27,281.92 677.40,282.10C679.53,282.28 682.23,282.52 683.20,282.60" stroke="#ff0000"/>
</g>
<text x="349.84" y="11.00" font-size="15.00" font-weight="bold" fill="#000" textLength="10.89" lengthAdjust="spacingAndGlyphs">b</text>
<rect x="433.1" y="38.2" width="44.1" height="250.2" fill="rgba(255,0,0,0.2)"/>
<rect x="500.9" y="163.3" width="35.3" height="125.1" fill="rgba(0,255,0,0.2)"/>
<text x="443.54" y="51.70" font-size="8.80" fill="#333" textLength="24.10" lengthAdjust="spacingAndGlyphs">Cu–O</text>
<text x="500.53" y="177.70" font-size="9.00" fill="#333" textLength="36.28" lengthAdjust="spacingAndGlyphs">Cu–Al/Si</text>
<line x1="587.4" y1="17.6" x2="607.2" y2="17.6" stroke="#1a1a1a" stroke-width="1.20" stroke-dasharray="4.4 3.2"/>
<text x="613.75" y="21.00" font-size="9.20" fill="#242424" textLength="20.15" lengthAdjust="spacingAndGlyphs">7/1.3</text>
<line x1="587.4" y1="30.3" x2="607.2" y2="30.3" stroke="#ff0000" stroke-width="1.20" stroke-dasharray="4.4 3.2"/>
<text x="613.54" y="33.30" font-size="9.20" fill="#242424" textLength="24.56" lengthAdjust="spacingAndGlyphs">14/1.3</text>
<line x1="587.4" y1="42.4" x2="607.2" y2="42.4" stroke="#1a1a1a" stroke-width="1.20"/>
<text x="613.74" y="45.20" font-size="9.20" fill="#242424" textLength="61.69" lengthAdjust="spacingAndGlyphs">7/1.3 with HCN</text>
<line x1="587.4" y1="54.5" x2="607.2" y2="54.5" stroke="#ff0000" stroke-width="1.20"/>
<text x="613.52" y="57.30" font-size="9.20" fill="#242424" textLength="66.32" lengthAdjust="spacingAndGlyphs">14/1.3 with HCN</text>
<text x="492.17" y="25.00" font-size="10.00" fill="#242424" textLength="35.52" lengthAdjust="spacingAndGlyphs">NO + O</text>
<text x="527.48" y="28.00" font-size="6.30" fill="#242424" textLength="4.64" lengthAdjust="spacingAndGlyphs">2</text>
<text x="534.12" y="25.00" font-size="10.00" fill="#242424" textLength="5.66" lengthAdjust="spacingAndGlyphs">+</text>
<text x="542.70" y="25.00" font-size="10.00" fill="#242424" textLength="6.32" lengthAdjust="spacingAndGlyphs">H</text>
<text x="549.05" y="28.00" font-size="6.30" fill="#242424" textLength="5.01" lengthAdjust="spacingAndGlyphs">2</text>
<text x="554.32" y="25.00" font-size="10.00" fill="#242424" textLength="8.29" lengthAdjust="spacingAndGlyphs">O</text>
<text x="492.62" y="37.50" font-size="10.20" fill="#242424" textLength="34.47" lengthAdjust="spacingAndGlyphs">450 °C</text>
<g stroke="#8c8c8c" stroke-width="1" fill="none">
<rect x="389.5" y="11.5" width="294.0" height="277.0"/>
<line x1="383.2" y1="248.85" x2="389.5" y2="248.85"/>
<line x1="383.2" y1="209.25" x2="389.5" y2="209.25"/>
<line x1="383.2" y1="169.65" x2="389.5" y2="169.65"/>
<line x1="383.2" y1="130.05" x2="389.5" y2="130.05"/>
<line x1="383.2" y1="90.50" x2="389.5" y2="90.50"/>
<line x1="383.2" y1="50.80" x2="389.5" y2="50.80"/>
<line x1="383.2" y1="288.45" x2="389.5" y2="288.45"/>
<line x1="383.2" y1="11.50" x2="389.5" y2="11.50"/>
<line x1="389.45" y1="288.5" x2="389.45" y2="293.9"/>
<line x1="487.40" y1="288.5" x2="487.40" y2="293.9"/>
<line x1="585.35" y1="288.5" x2="585.35" y2="293.9"/>
<line x1="683.30" y1="288.5" x2="683.30" y2="293.9"/>
</g>
<text x="372.99" y="290.17" font-size="9.20" fill="#242424" textLength="5.63" lengthAdjust="spacingAndGlyphs">0</text>
<text x="373.09" y="250.57" font-size="9.20" fill="#242424" textLength="5.63" lengthAdjust="spacingAndGlyphs">1</text>
<text x="373.09" y="210.97" font-size="9.20" fill="#242424" textLength="5.63" lengthAdjust="spacingAndGlyphs">2</text>
<text x="373.04" y="171.37" font-size="9.20" fill="#242424" textLength="5.63" lengthAdjust="spacingAndGlyphs">3</text>
<text x="372.89" y="131.77" font-size="9.20" fill="#242424" textLength="5.63" lengthAdjust="spacingAndGlyphs">4</text>
<text x="372.99" y="92.22" font-size="9.20" fill="#242424" textLength="5.63" lengthAdjust="spacingAndGlyphs">5</text>
<text x="373.04" y="52.52" font-size="9.20" fill="#242424" textLength="5.63" lengthAdjust="spacingAndGlyphs">6</text>
<text x="373.09" y="13.22" font-size="9.20" fill="#242424" textLength="5.63" lengthAdjust="spacingAndGlyphs">7</text>
<text x="386.34" y="304.70" font-size="9.20" fill="#242424" textLength="5.63" lengthAdjust="spacingAndGlyphs">0</text>
<text x="484.29" y="304.70" font-size="9.20" fill="#242424" textLength="5.63" lengthAdjust="spacingAndGlyphs">2</text>
<text x="582.27" y="304.70" font-size="9.20" fill="#242424" textLength="5.63" lengthAdjust="spacingAndGlyphs">4</text>
<text x="680.17" y="304.70" font-size="9.20" fill="#242424" textLength="5.63" lengthAdjust="spacingAndGlyphs">6</text>
<text x="524.64" y="319.70" font-size="10.00" font-style="italic" fill="#242424" textLength="6.24" lengthAdjust="spacingAndGlyphs">R</text>
<text x="533.45" y="319.70" font-size="10.00" fill="#242424" textLength="14.54" lengthAdjust="spacingAndGlyphs">(Å)</text>
<g transform="translate(364.80,0.00) rotate(-90)">
<text x="-177.36" y="0.00" font-size="10.00" fill="#242424" textLength="11.56" lengthAdjust="spacingAndGlyphs">FT</text>
<text x="-162.94" y="0.00" font-size="10.00" font-style="italic" fill="#242424" textLength="4.57" lengthAdjust="spacingAndGlyphs">k</text>
<text x="-157.51" y="-5.00" font-size="6.80" fill="#242424" textLength="4.26" lengthAdjust="spacingAndGlyphs">3</text>
<text x="-150.16" y="0.00" font-size="10.00" fill="#242424" textLength="9.36" lengthAdjust="spacingAndGlyphs">(Å</text>
<text x="-140.25" y="-5.00" font-size="6.80" fill="#242424" textLength="7.96" lengthAdjust="spacingAndGlyphs">−4</text>
<text x="-131.39" y="0.00" font-size="10.00" fill="#242424" textLength="3.07" lengthAdjust="spacingAndGlyphs">)</text>
</g>
<rect x="80" y="420.7" width="43.9" height="207.7" fill="rgba(255,0,0,0.2)"/>
<rect x="147.9" y="531.9" width="35.3" height="96.5" fill="rgba(0,255,0,0.2)"/>
<clipPath id="c0_340"><rect x="36.5" y="351.5" width="294.0" height="277.0"/></clipPath>
<g clip-path="url(#c0_340)" fill="none" stroke-width="1.00" stroke-linejoin="round">
<path d="M36.50,621.50C37.47,621.92 40.33,624.42 42.30,624.00C44.27,623.58 46.30,619.03 48.30,619.00C50.30,618.97 52.38,624.17 54.30,623.80C56.22,623.43 58.15,616.77 59.80,616.80C61.45,616.83 63.20,624.13 64.20,624.00C65.20,623.87 65.23,619.15 65.80,616.00C66.37,612.85 66.90,608.83 67.60,605.10C68.30,601.37 69.10,599.12 70.00,593.60C70.90,588.08 71.95,576.98 73.00,572.00C74.05,567.02 75.07,562.72 76.30,563.70C77.53,564.68 79.37,573.52 80.40,577.90C81.43,582.28 81.73,586.72 82.50,590.00C83.27,593.28 84.07,599.55 85.00,597.60C85.93,595.65 87.28,584.53 88.10,578.30C88.92,572.07 89.40,566.23 89.90,560.20C90.40,554.17 90.53,548.65 91.10,542.10C91.67,535.55 92.40,525.23 93.30,520.90C94.20,516.57 95.37,516.55 96.50,516.10C97.63,515.65 98.93,521.22 100.10,518.20C101.27,515.18 102.37,503.73 103.50,498.00C104.63,492.27 105.95,488.43 106.90,483.80C107.85,479.17 108.32,474.35 109.20,470.20C110.08,466.05 111.20,458.90 112.20,458.90C113.20,458.90 114.32,464.53 115.20,470.20C116.08,475.87 116.87,485.35 117.50,492.90C118.13,500.45 118.50,508.70 119.00,515.50C119.50,522.30 119.78,524.18 120.50,533.70C121.22,543.22 122.45,562.93 123.30,572.60C124.15,582.27 124.82,586.40 125.60,591.70C126.38,597.00 127.07,603.88 128.00,604.40C128.93,604.92 130.13,594.28 131.20,594.80C132.27,595.32 133.08,603.27 134.40,607.50C135.72,611.73 137.78,619.67 139.10,620.20C140.42,620.73 141.10,612.82 142.30,610.70C143.50,608.58 145.12,607.28 146.30,607.50C147.48,607.72 148.45,611.42 149.40,612.00C150.35,612.58 151.22,611.87 152.00,611.00C152.78,610.13 153.25,609.10 154.10,606.80C154.95,604.50 156.20,599.12 157.10,597.20C158.00,595.28 158.50,594.70 159.50,595.30C160.50,595.90 161.78,598.88 163.10,600.80C164.42,602.72 165.88,605.60 167.40,606.80C168.92,608.00 170.70,606.58 172.20,608.00C173.70,609.42 175.08,612.87 176.40,615.30C177.72,617.73 179.08,621.18 180.10,622.60C181.12,624.02 181.40,623.80 182.50,623.80C183.60,623.80 185.40,623.02 186.70,622.60C188.00,622.18 188.98,622.42 190.30,621.30C191.62,620.18 193.28,616.80 194.60,615.90C195.92,615.00 196.98,614.83 198.20,615.90C199.42,616.97 200.97,620.60 201.90,622.30C202.83,624.00 203.02,626.42 203.80,626.10C204.58,625.78 205.33,622.15 206.60,620.40C207.87,618.65 209.82,615.92 211.40,615.60C212.98,615.28 214.33,617.43 216.10,618.50C217.87,619.57 219.93,620.98 222.00,622.00C224.07,623.02 226.15,624.48 228.50,624.60C230.85,624.72 233.90,622.77 236.10,622.70C238.30,622.63 239.50,624.75 241.70,624.20C243.90,623.65 247.08,619.88 249.30,619.40C251.52,618.92 253.25,620.27 255.00,621.30C256.75,622.33 258.27,624.60 259.80,625.60C261.33,626.60 262.42,627.63 264.20,627.30C265.98,626.97 268.40,624.03 270.50,623.60C272.60,623.17 274.38,624.30 276.80,624.70C279.22,625.10 281.48,625.57 285.00,626.00C288.52,626.43 294.53,627.52 297.90,627.30C301.27,627.08 302.75,624.87 305.20,624.70C307.65,624.53 309.97,626.12 312.60,626.30C315.23,626.48 318.55,626.15 321.00,625.80C323.45,625.45 325.80,624.58 327.30,624.20C328.80,623.82 329.55,623.62 330.00,623.50" stroke="#1a1a1a" stroke-dasharray="4.3 3.1"/>
<path d="M36.50,620.50C37.35,620.92 39.63,623.38 41.60,623.00C43.57,622.62 46.28,618.27 48.30,618.20C50.32,618.13 51.78,623.00 53.70,622.60C55.62,622.20 57.98,615.43 59.80,615.80C61.62,616.17 63.30,625.60 64.60,624.80C65.90,624.00 66.70,615.30 67.60,611.00C68.50,606.70 69.18,603.33 70.00,599.00C70.82,594.67 71.40,588.45 72.50,585.00C73.60,581.55 75.50,578.62 76.60,578.30C77.70,577.98 78.38,581.48 79.10,583.10C79.82,584.72 80.20,588.80 80.90,588.00C81.60,587.20 82.50,582.93 83.30,578.30C84.10,573.67 84.90,565.63 85.70,560.20C86.50,554.77 87.40,549.12 88.10,545.70C88.80,542.28 89.40,540.80 89.90,539.70C90.40,538.60 90.50,538.38 91.10,539.10C91.70,539.82 92.68,542.18 93.50,544.00C94.32,545.82 95.18,548.42 96.00,550.00C96.82,551.58 97.72,554.95 98.40,553.50C99.08,552.05 99.68,546.37 100.10,541.30C100.52,536.23 100.40,531.17 100.90,523.10C101.40,515.03 102.35,501.72 103.10,492.90C103.85,484.08 104.52,476.75 105.40,470.20C106.28,463.65 107.27,453.60 108.40,453.60C109.53,453.60 111.18,463.65 112.20,470.20C113.22,476.75 113.62,485.35 114.50,492.90C115.38,500.45 116.63,508.70 117.50,515.50C118.37,522.30 118.62,522.85 119.70,533.70C120.78,544.55 122.75,569.35 124.00,580.60C125.25,591.85 126.27,596.18 127.20,601.20C128.13,606.22 128.67,610.70 129.60,610.70C130.53,610.70 131.62,602.52 132.80,601.20C133.98,599.88 135.52,600.82 136.70,602.80C137.88,604.78 138.70,611.78 139.90,613.10C141.10,614.42 142.65,611.55 143.90,610.70C145.15,609.85 146.00,607.23 147.40,608.00C148.80,608.77 150.78,613.28 152.30,615.30C153.82,617.32 155.20,620.10 156.50,620.10C157.80,620.10 158.80,616.50 160.10,615.30C161.40,614.10 162.88,613.10 164.30,612.90C165.72,612.70 167.18,613.10 168.60,614.10C170.02,615.10 171.40,617.08 172.80,618.90C174.20,620.72 175.58,624.48 177.00,625.00C178.42,625.52 179.68,622.82 181.30,622.00C182.92,621.18 185.08,620.82 186.70,620.10C188.32,619.38 189.48,619.20 191.00,617.70C192.52,616.20 194.70,612.30 195.80,611.10C196.90,609.90 196.70,610.00 197.60,610.50C198.50,611.00 200.17,612.52 201.20,614.10C202.23,615.68 202.83,619.35 203.80,620.00C204.77,620.65 205.90,618.73 207.00,618.00C208.10,617.27 209.20,615.68 210.40,615.60C211.60,615.52 212.77,616.15 214.20,617.50C215.63,618.85 217.57,622.83 219.00,623.70C220.43,624.57 221.53,623.10 222.80,622.70C224.07,622.30 225.33,621.30 226.60,621.30C227.87,621.30 229.13,622.78 230.40,622.70C231.67,622.62 232.63,620.87 234.20,620.80C235.77,620.73 238.07,621.58 239.80,622.30C241.53,623.02 243.02,624.15 244.60,625.10C246.18,626.05 247.72,627.83 249.30,628.00C250.88,628.17 252.52,627.05 254.10,626.10C255.68,625.15 257.38,623.25 258.80,622.30C260.22,621.35 260.30,621.23 262.60,620.40C264.90,619.57 269.70,618.07 272.60,617.30C275.50,616.53 277.72,615.27 280.00,615.80C282.28,616.33 284.38,619.45 286.30,620.50C288.22,621.55 289.75,622.18 291.50,622.10C293.25,622.02 294.87,620.27 296.80,620.00C298.73,619.73 301.17,619.72 303.10,620.50C305.03,621.28 306.12,624.18 308.40,624.70C310.68,625.22 314.35,623.68 316.80,623.60C319.25,623.52 320.90,624.37 323.10,624.20C325.30,624.03 328.85,622.87 330.00,622.60" stroke="#ff0000" stroke-dasharray="4.3 3.1"/>
<path d="M36.50,622.00C37.47,622.40 40.33,624.80 42.30,624.40C44.27,624.00 46.30,619.65 48.30,619.60C50.30,619.55 52.38,624.50 54.30,624.10C56.22,623.70 58.08,617.10 59.80,617.20C61.52,617.30 63.48,624.90 64.60,624.70C65.72,624.50 65.85,620.12 66.50,616.00C67.15,611.88 67.83,604.67 68.50,600.00C69.17,595.33 69.75,592.17 70.50,588.00C71.25,583.83 72.08,578.03 73.00,575.00C73.92,571.97 74.88,568.85 76.00,569.80C77.12,570.75 78.78,577.27 79.70,580.70C80.62,584.13 80.73,585.27 81.50,590.40C82.27,595.53 83.40,610.70 84.30,611.50C85.20,612.30 86.17,600.73 86.90,595.20C87.63,589.67 88.10,584.13 88.70,578.30C89.30,572.47 89.90,566.23 90.50,560.20C91.10,554.17 91.58,545.72 92.30,542.10C93.02,538.48 93.98,539.20 94.80,538.50C95.62,537.80 96.30,537.90 97.20,537.90C98.10,537.90 99.22,539.47 100.20,538.50C101.18,537.53 101.98,535.17 103.10,532.10C104.22,529.03 105.77,523.12 106.90,520.10C108.03,517.08 108.90,514.00 109.90,514.00C110.90,514.00 112.02,517.33 112.90,520.10C113.78,522.87 114.57,527.58 115.20,530.60C115.83,533.62 116.15,533.85 116.70,538.20C117.25,542.55 117.67,549.63 118.50,556.70C119.33,563.77 120.65,573.98 121.70,580.60C122.75,587.22 123.75,592.97 124.80,596.40C125.85,599.83 126.67,600.40 128.00,601.20C129.33,602.00 131.35,600.67 132.80,601.20C134.25,601.73 135.65,603.48 136.70,604.40C137.75,605.32 138.03,607.23 139.10,606.70C140.17,606.17 141.63,602.55 143.10,601.20C144.57,599.85 146.17,598.87 147.90,598.60C149.63,598.33 151.87,599.13 153.50,599.60C155.13,600.07 156.40,600.40 157.70,601.40C159.00,602.40 160.08,603.68 161.30,605.60C162.52,607.52 163.78,610.48 165.00,612.90C166.22,615.32 167.30,618.08 168.60,620.10C169.90,622.12 171.40,623.78 172.80,625.00C174.20,626.22 175.58,627.60 177.00,627.40C178.42,627.20 179.98,624.50 181.30,623.80C182.62,623.10 183.70,622.90 184.90,623.20C186.10,623.50 187.48,625.00 188.50,625.60C189.52,626.20 189.98,627.10 191.00,626.80C192.02,626.50 193.40,624.92 194.60,623.80C195.80,622.68 197.00,620.40 198.20,620.10C199.40,619.80 200.40,621.48 201.80,622.00C203.20,622.52 205.17,623.40 206.60,623.20C208.03,623.00 209.13,621.35 210.40,620.80C211.67,620.25 212.77,619.73 214.20,619.90C215.63,620.07 217.57,621.08 219.00,621.80C220.43,622.52 221.47,623.25 222.80,624.20C224.13,625.15 225.58,627.35 227.00,627.50C228.42,627.65 229.78,625.82 231.30,625.10C232.82,624.38 234.37,623.60 236.10,623.20C237.83,622.80 239.82,622.93 241.70,622.70C243.58,622.47 245.50,622.12 247.40,621.80C249.30,621.48 251.20,621.03 253.10,620.80C255.00,620.57 256.60,620.53 258.80,620.40C261.00,620.27 264.00,619.82 266.30,620.00C268.60,620.18 270.50,620.72 272.60,621.50C274.70,622.28 276.45,623.63 278.90,624.70C281.35,625.77 284.85,627.82 287.30,627.90C289.75,627.98 291.83,625.92 293.60,625.20C295.37,624.48 296.13,623.60 297.90,623.60C299.67,623.60 302.45,624.48 304.20,625.20C305.95,625.92 307.00,627.72 308.40,627.90C309.80,628.08 310.68,626.65 312.60,626.30C314.52,625.95 317.80,626.07 319.90,625.80C322.00,625.53 323.52,625.15 325.20,624.70C326.88,624.25 329.20,623.37 330.00,623.10" stroke="#1a1a1a"/>
<path d="M36.50,620.20C37.35,620.65 39.63,623.20 41.60,622.90C43.57,622.60 46.28,618.45 48.30,618.40C50.32,618.35 51.78,623.00 53.70,622.60C55.62,622.20 57.98,615.60 59.80,616.00C61.62,616.40 63.30,625.82 64.60,625.00C65.90,624.18 66.70,615.42 67.60,611.10C68.50,606.78 69.20,603.15 70.00,599.10C70.80,595.05 71.50,589.27 72.40,586.80C73.30,584.33 74.38,584.10 75.40,584.30C76.42,584.50 77.58,586.98 78.50,588.00C79.42,589.02 80.10,592.02 80.90,590.40C81.70,588.78 82.50,583.33 83.30,578.30C84.10,573.27 84.90,565.63 85.70,560.20C86.50,554.77 87.40,549.12 88.10,545.70C88.80,542.28 89.40,540.80 89.90,539.70C90.40,538.60 90.60,538.70 91.10,539.10C91.60,539.50 92.18,540.20 92.90,542.10C93.62,544.00 94.63,547.88 95.40,550.50C96.17,553.12 96.80,557.60 97.50,557.80C98.20,558.00 98.92,556.33 99.60,551.70C100.28,547.07 100.88,537.28 101.60,530.00C102.32,522.72 103.15,514.18 103.90,508.00C104.65,501.82 105.22,497.43 106.10,492.90C106.98,488.37 108.18,481.32 109.20,480.80C110.22,480.28 111.20,485.77 112.20,489.80C113.20,493.83 114.20,499.20 115.20,505.00C116.20,510.80 117.52,519.95 118.20,524.60C118.88,529.25 118.58,526.22 119.30,532.90C120.02,539.58 121.45,554.90 122.50,564.70C123.55,574.50 124.68,585.62 125.60,591.70C126.52,597.78 127.07,600.15 128.00,601.20C128.93,602.25 130.13,600.12 131.20,598.00C132.27,595.88 133.35,590.48 134.40,588.50C135.45,586.52 136.45,585.70 137.50,586.10C138.55,586.50 139.63,589.45 140.70,590.90C141.77,592.35 142.93,595.12 143.90,594.80C144.87,594.48 145.72,591.43 146.50,589.00C147.28,586.57 147.53,583.12 148.60,580.20C149.67,577.28 151.58,571.50 152.90,571.50C154.22,571.50 155.30,576.53 156.50,580.20C157.70,583.87 158.90,589.97 160.10,593.50C161.30,597.03 162.28,599.78 163.70,601.40C165.12,603.02 166.98,602.30 168.60,603.20C170.22,604.10 171.78,605.58 173.40,606.80C175.02,608.02 176.78,609.08 178.30,610.50C179.82,611.92 181.10,613.80 182.50,615.30C183.90,616.80 185.40,619.10 186.70,619.50C188.00,619.90 189.08,619.20 190.30,617.70C191.52,616.20 192.88,612.22 194.00,610.50C195.12,608.78 195.90,607.00 197.00,607.40C198.10,607.80 199.15,610.27 200.60,612.90C202.05,615.53 204.22,622.58 205.70,623.20C207.18,623.82 208.00,618.02 209.50,616.60C211.00,615.18 213.12,614.38 214.70,614.70C216.28,615.02 217.65,617.08 219.00,618.50C220.35,619.92 221.62,621.87 222.80,623.20C223.98,624.53 224.83,626.50 226.10,626.50C227.37,626.50 228.73,623.98 230.40,623.20C232.07,622.42 234.22,622.12 236.10,621.80C237.98,621.48 239.65,621.47 241.70,621.30C243.75,621.13 246.18,621.20 248.40,620.80C250.62,620.40 252.95,619.48 255.00,618.90C257.05,618.32 258.82,617.73 260.70,617.30C262.58,616.87 264.32,616.12 266.30,616.30C268.28,616.48 270.50,617.35 272.60,618.40C274.70,619.45 276.62,621.82 278.90,622.60C281.18,623.38 283.85,623.28 286.30,623.10C288.75,622.92 291.42,622.25 293.60,621.50C295.78,620.75 297.63,618.77 299.40,618.60C301.17,618.43 302.53,619.48 304.20,620.50C305.87,621.52 307.65,623.73 309.40,624.70C311.15,625.67 312.77,626.03 314.70,626.30C316.63,626.57 318.90,626.03 321.00,626.30C323.10,626.57 325.80,627.73 327.30,627.90C328.80,628.07 329.55,627.40 330.00,627.30" stroke="#ff0000"/>
</g>
<text x="-0.29" y="349.70" font-size="15.00" font-weight="bold" fill="#000" textLength="9.63" lengthAdjust="spacingAndGlyphs">c</text>
<text x="89.14" y="434.80" font-size="8.80" fill="#333" textLength="24.20" lengthAdjust="spacingAndGlyphs">Cu–O</text>
<text x="147.43" y="546.50" font-size="9.00" fill="#333" textLength="36.38" lengthAdjust="spacingAndGlyphs">Cu–Al/Si</text>
<line x1="235.9" y1="359.0" x2="255.8" y2="359.0" stroke="#4a4a4a" stroke-width="1.10" stroke-dasharray="4.4 3.2"/>
<text x="262.15" y="361.80" font-size="9.20" fill="#242424" textLength="20.15" lengthAdjust="spacingAndGlyphs">7/1.3</text>
<line x1="235.9" y1="371.3" x2="255.8" y2="371.3" stroke="#ff5050" stroke-width="1.10" stroke-dasharray="4.4 3.2"/>
<text x="261.94" y="374.30" font-size="9.20" fill="#242424" textLength="24.56" lengthAdjust="spacingAndGlyphs">14/1.3</text>
<line x1="235.9" y1="383.5" x2="255.8" y2="383.5" stroke="#4a4a4a" stroke-width="1.10"/>
<text x="262.14" y="386.30" font-size="9.20" fill="#242424" textLength="61.69" lengthAdjust="spacingAndGlyphs">7/1.3 with HCN</text>
<line x1="235.9" y1="395.8" x2="255.8" y2="395.8" stroke="#ff5050" stroke-width="1.10"/>
<text x="261.92" y="398.60" font-size="9.20" fill="#242424" textLength="66.32" lengthAdjust="spacingAndGlyphs">14/1.3 with HCN</text>
<text x="119.88" y="364.70" font-size="10.00" fill="#242424" textLength="41.99" lengthAdjust="spacingAndGlyphs">NO + NH</text>
<text x="161.97" y="367.70" font-size="6.30" fill="#242424" textLength="4.62" lengthAdjust="spacingAndGlyphs">3</text>
<text x="169.31" y="364.70" font-size="10.00" fill="#242424" textLength="5.78" lengthAdjust="spacingAndGlyphs">+</text>
<text x="177.50" y="364.70" font-size="10.00" fill="#242424" textLength="8.63" lengthAdjust="spacingAndGlyphs">O</text>
<text x="185.56" y="367.70" font-size="6.30" fill="#242424" textLength="4.89" lengthAdjust="spacingAndGlyphs">2</text>
<text x="192.55" y="364.70" font-size="10.00" fill="#242424" textLength="5.30" lengthAdjust="spacingAndGlyphs">+</text>
<text x="201.06" y="364.70" font-size="10.00" fill="#242424" textLength="6.71" lengthAdjust="spacingAndGlyphs">H</text>
<text x="207.47" y="367.70" font-size="6.30" fill="#242424" textLength="4.77" lengthAdjust="spacingAndGlyphs">2</text>
<text x="212.71" y="364.70" font-size="10.00" fill="#242424" textLength="8.40" lengthAdjust="spacingAndGlyphs">O</text>
<text x="120.24" y="377.80" font-size="10.20" fill="#242424" textLength="35.36" lengthAdjust="spacingAndGlyphs">300 °C</text>
<g stroke="#8c8c8c" stroke-width="1" fill="none">
<rect x="36.5" y="351.5" width="294.0" height="277.0"/>
<line x1="30.2" y1="588.85" x2="36.5" y2="588.85"/>
<line x1="30.2" y1="549.25" x2="36.5" y2="549.25"/>
<line x1="30.2" y1="509.65" x2="36.5" y2="509.65"/>
<line x1="30.2" y1="470.05" x2="36.5" y2="470.05"/>
<line x1="30.2" y1="430.50" x2="36.5" y2="430.50"/>
<line x1="30.2" y1="390.80" x2="36.5" y2="390.80"/>
<line x1="30.2" y1="628.45" x2="36.5" y2="628.45"/>
<line x1="30.2" y1="351.50" x2="36.5" y2="351.50"/>
<line x1="36.45" y1="628.5" x2="36.45" y2="633.9"/>
<line x1="134.40" y1="628.5" x2="134.40" y2="633.9"/>
<line x1="232.35" y1="628.5" x2="232.35" y2="633.9"/>
<line x1="330.30" y1="628.5" x2="330.30" y2="633.9"/>
</g>
<text x="19.99" y="630.17" font-size="9.20" fill="#242424" textLength="5.63" lengthAdjust="spacingAndGlyphs">0</text>
<text x="20.09" y="590.57" font-size="9.20" fill="#242424" textLength="5.63" lengthAdjust="spacingAndGlyphs">1</text>
<text x="20.09" y="550.97" font-size="9.20" fill="#242424" textLength="5.63" lengthAdjust="spacingAndGlyphs">2</text>
<text x="20.04" y="511.37" font-size="9.20" fill="#242424" textLength="5.63" lengthAdjust="spacingAndGlyphs">3</text>
<text x="19.89" y="471.77" font-size="9.20" fill="#242424" textLength="5.63" lengthAdjust="spacingAndGlyphs">4</text>
<text x="19.99" y="432.22" font-size="9.20" fill="#242424" textLength="5.63" lengthAdjust="spacingAndGlyphs">5</text>
<text x="20.04" y="392.52" font-size="9.20" fill="#242424" textLength="5.63" lengthAdjust="spacingAndGlyphs">6</text>
<text x="20.09" y="353.22" font-size="9.20" fill="#242424" textLength="5.63" lengthAdjust="spacingAndGlyphs">7</text>
<text x="33.34" y="644.70" font-size="9.20" fill="#242424" textLength="5.63" lengthAdjust="spacingAndGlyphs">0</text>
<text x="131.29" y="644.70" font-size="9.20" fill="#242424" textLength="5.63" lengthAdjust="spacingAndGlyphs">2</text>
<text x="229.27" y="644.70" font-size="9.20" fill="#242424" textLength="5.63" lengthAdjust="spacingAndGlyphs">4</text>
<text x="327.17" y="644.70" font-size="9.20" fill="#242424" textLength="5.63" lengthAdjust="spacingAndGlyphs">6</text>
<text x="171.64" y="659.70" font-size="10.00" font-style="italic" fill="#242424" textLength="6.24" lengthAdjust="spacingAndGlyphs">R</text>
<text x="180.45" y="659.70" font-size="10.00" fill="#242424" textLength="14.54" lengthAdjust="spacingAndGlyphs">(Å)</text>
<g transform="translate(11.80,340.00) rotate(-90)">
<text x="-177.36" y="0.00" font-size="10.00" fill="#242424" textLength="11.56" lengthAdjust="spacingAndGlyphs">FT</text>
<text x="-162.94" y="0.00" font-size="10.00" font-style="italic" fill="#242424" textLength="4.57" lengthAdjust="spacingAndGlyphs">k</text>
<text x="-157.51" y="-5.00" font-size="6.80" fill="#242424" textLength="4.26" lengthAdjust="spacingAndGlyphs">3</text>
<text x="-150.16" y="0.00" font-size="10.00" fill="#242424" textLength="9.36" lengthAdjust="spacingAndGlyphs">(Å</text>
<text x="-140.25" y="-5.00" font-size="6.80" fill="#242424" textLength="7.96" lengthAdjust="spacingAndGlyphs">−4</text>
<text x="-131.39" y="0.00" font-size="10.00" fill="#242424" textLength="3.07" lengthAdjust="spacingAndGlyphs">)</text>
</g>
<rect x="433.1" y="421.1" width="44.1" height="207.3" fill="rgba(255,0,0,0.2)"/>
<rect x="501" y="532" width="35.2" height="96.4" fill="rgba(0,255,0,0.2)"/>
<clipPath id="c353_340"><rect x="389.5" y="351.5" width="294.0" height="277.0"/></clipPath>
<g clip-path="url(#c353_340)" fill="none" stroke-width="1.00" stroke-linejoin="round">
<path d="M389.50,622.20C390.25,622.50 392.23,624.53 394.00,624.00C395.77,623.47 398.18,619.50 400.10,619.00C402.02,618.50 403.68,621.73 405.50,621.00C407.32,620.27 409.48,615.23 411.00,614.60C412.52,613.97 413.55,615.73 414.60,617.20C415.65,618.67 416.60,623.93 417.30,623.40C418.00,622.87 418.35,617.07 418.80,614.00C419.25,610.93 419.55,608.25 420.00,605.00C420.45,601.75 421.10,597.00 421.50,594.50C421.90,592.00 421.97,593.75 422.40,590.00C422.83,586.25 423.45,577.08 424.10,572.00C424.75,566.92 425.55,562.50 426.30,559.50C427.05,556.50 427.72,553.42 428.60,554.00C429.48,554.58 430.85,559.42 431.60,563.00C432.35,566.58 432.47,569.75 433.10,575.50C433.73,581.25 434.63,596.58 435.40,597.50C436.17,598.42 436.95,587.42 437.70,581.00C438.45,574.58 439.15,566.50 439.90,559.00C440.65,551.50 441.32,542.67 442.20,536.00C443.08,529.33 444.20,522.73 445.20,519.00C446.20,515.27 447.23,514.77 448.20,513.60C449.17,512.43 450.12,513.00 451.00,512.00C451.88,511.00 452.70,509.35 453.50,507.60C454.30,505.85 455.03,504.77 455.80,501.50C456.57,498.23 457.22,494.03 458.10,488.00C458.98,481.97 460.22,471.60 461.10,465.30C461.98,459.00 462.63,453.85 463.40,450.20C464.17,446.55 464.95,443.40 465.70,443.40C466.45,443.40 467.15,446.55 467.90,450.20C468.65,453.85 469.57,459.77 470.20,465.30C470.83,470.83 471.20,477.10 471.70,483.40C472.20,489.70 472.70,497.30 473.20,503.10C473.70,508.90 474.15,512.05 474.70,518.20C475.25,524.35 475.87,532.70 476.50,540.00C477.13,547.30 477.83,555.33 478.50,562.00C479.17,568.67 479.78,575.33 480.50,580.00C481.22,584.67 481.92,587.00 482.80,590.00C483.68,593.00 484.40,594.43 485.80,598.00C487.20,601.57 489.68,608.70 491.20,611.40C492.72,614.10 493.68,613.88 494.90,614.20C496.12,614.52 497.30,614.67 498.50,613.30C499.70,611.93 501.07,610.10 502.10,606.00C503.13,601.90 503.87,594.00 504.70,588.70C505.53,583.40 506.30,577.63 507.10,574.20C507.90,570.77 508.50,569.92 509.50,568.10C510.50,566.28 511.68,564.20 513.10,563.30C514.52,562.40 516.58,562.90 518.00,562.70C519.42,562.50 520.60,561.60 521.60,562.10C522.60,562.60 523.20,563.28 524.00,565.70C524.80,568.12 525.65,573.13 526.40,576.60C527.15,580.07 527.78,583.27 528.50,586.50C529.22,589.73 529.93,593.02 530.70,596.00C531.47,598.98 532.10,602.40 533.10,604.40C534.10,606.40 535.50,606.68 536.70,608.00C537.90,609.32 539.28,611.38 540.30,612.30C541.32,613.22 541.88,613.80 542.80,613.50C543.72,613.20 544.70,611.10 545.80,610.50C546.90,609.90 548.40,609.10 549.40,609.90C550.40,610.70 550.77,612.63 551.80,615.30C552.83,617.97 554.45,625.67 555.60,625.90C556.75,626.13 557.50,619.43 558.70,616.70C559.90,613.97 561.43,609.68 562.80,609.50C564.17,609.32 565.55,612.87 566.90,615.60C568.25,618.33 569.55,625.22 570.90,625.90C572.25,626.58 573.88,620.55 575.00,619.70C576.12,618.85 576.57,619.52 577.60,620.80C578.63,622.08 580.02,627.58 581.20,627.40C582.38,627.22 583.52,621.40 584.70,619.70C585.88,618.00 587.10,617.20 588.30,617.20C589.50,617.20 590.80,618.25 591.90,619.70C593.00,621.15 593.88,626.07 594.90,625.90C595.92,625.73 596.63,620.83 598.00,618.70C599.37,616.57 601.48,613.27 603.10,613.10C604.72,612.93 606.33,615.83 607.70,617.70C609.07,619.57 610.28,622.77 611.30,624.30C612.32,625.83 612.33,626.55 613.80,626.90C615.27,627.25 618.03,627.25 620.10,626.40C622.17,625.55 623.98,622.15 626.20,621.80C628.42,621.45 631.02,624.30 633.40,624.30C635.78,624.30 638.20,621.45 640.50,621.80C642.80,622.15 645.32,626.67 647.20,626.40C649.08,626.13 650.35,621.48 651.80,620.20C653.25,618.92 654.37,618.35 655.90,618.70C657.43,619.05 659.30,621.02 661.00,622.30C662.70,623.58 664.40,625.55 666.10,626.40C667.80,627.25 669.33,627.67 671.20,627.40C673.07,627.13 675.33,625.05 677.30,624.80C679.27,624.55 682.05,625.72 683.00,625.90" stroke="#1a1a1a" stroke-dasharray="4.3 3.1"/>
<path d="M389.50,622.40C390.25,622.97 392.23,626.12 394.00,625.80C395.77,625.48 397.98,620.53 400.10,620.50C402.22,620.47 404.58,625.78 406.70,625.60C408.82,625.42 411.38,619.93 412.80,619.40C414.22,618.87 414.40,621.03 415.20,622.40C416.00,623.77 416.90,628.00 417.60,627.60C418.30,627.20 418.83,622.60 419.40,620.00C419.97,617.40 420.40,615.00 421.00,612.00C421.60,609.00 422.25,605.17 423.00,602.00C423.75,598.83 424.70,595.52 425.50,593.00C426.30,590.48 426.97,587.40 427.80,586.90C428.63,586.40 429.55,588.82 430.50,590.00C431.45,591.18 432.58,594.83 433.50,594.00C434.42,593.17 435.18,588.58 436.00,585.00C436.82,581.42 437.50,576.60 438.40,572.50C439.30,568.40 440.65,563.55 441.40,560.40C442.15,557.25 442.27,553.85 442.90,553.60C443.53,553.35 444.18,556.75 445.20,558.90C446.22,561.05 447.98,566.75 449.00,566.50C450.02,566.25 450.55,562.70 451.30,557.40C452.05,552.10 452.88,541.25 453.50,534.70C454.12,528.15 454.50,522.72 455.00,518.10C455.50,513.48 455.85,510.77 456.50,507.00C457.15,503.23 458.13,498.42 458.90,495.50C459.67,492.58 460.35,489.50 461.10,489.50C461.85,489.50 462.77,491.98 463.40,495.50C464.03,499.02 464.60,507.58 464.90,510.60C465.20,513.62 464.58,509.17 465.20,513.60C465.82,518.03 467.43,529.35 468.60,537.20C469.77,545.05 471.00,553.15 472.20,560.70C473.40,568.25 474.73,576.77 475.80,582.50C476.87,588.23 477.68,591.18 478.60,595.10C479.52,599.02 480.40,603.43 481.30,606.00C482.20,608.57 482.95,610.20 484.00,610.50C485.05,610.80 486.10,608.10 487.60,607.80C489.10,607.50 491.18,607.63 493.00,608.70C494.82,609.77 497.17,613.90 498.50,614.20C499.83,614.50 500.07,610.32 501.00,610.50C501.93,610.68 503.28,613.80 504.10,615.30C504.92,616.80 505.10,619.30 505.90,619.50C506.70,619.70 507.90,618.00 508.90,616.50C509.90,615.00 510.78,612.12 511.90,610.50C513.02,608.88 514.18,607.72 515.60,606.80C517.02,605.88 518.90,605.00 520.40,605.00C521.90,605.00 523.40,605.08 524.60,606.80C525.80,608.52 526.48,612.47 527.60,615.30C528.72,618.13 529.88,622.58 531.30,623.80C532.72,625.02 534.48,622.40 536.10,622.60C537.72,622.80 539.38,625.00 541.00,625.00C542.62,625.00 544.30,623.48 545.80,622.60C547.30,621.72 548.45,619.33 550.00,619.70C551.55,620.07 553.40,624.62 555.10,624.80C556.80,624.98 558.50,621.82 560.20,620.80C561.90,619.78 563.60,619.05 565.30,618.70C567.00,618.35 568.70,618.45 570.40,618.70C572.10,618.95 573.80,619.85 575.50,620.20C577.20,620.55 578.72,620.80 580.60,620.80C582.48,620.80 584.92,620.20 586.80,620.20C588.68,620.20 590.20,620.03 591.90,620.80C593.60,621.57 595.47,623.70 597.00,624.80C598.53,625.90 599.40,626.97 601.10,627.40C602.80,627.83 605.17,627.48 607.20,627.40C609.23,627.32 611.17,627.42 613.30,626.90C615.43,626.38 618.02,625.37 620.00,624.30C621.98,623.23 623.32,621.05 625.20,620.50C627.08,619.95 629.25,620.83 631.30,621.00C633.35,621.17 635.28,621.58 637.50,621.50C639.72,621.42 642.38,620.92 644.60,620.50C646.82,620.08 648.92,619.33 650.80,619.00C652.68,618.67 654.20,618.08 655.90,618.50C657.60,618.92 659.30,620.58 661.00,621.50C662.70,622.42 664.23,623.75 666.10,624.00C667.97,624.25 670.17,623.08 672.20,623.00C674.23,622.92 676.50,623.50 678.30,623.50C680.10,623.50 682.22,623.08 683.00,623.00" stroke="#ff0000" stroke-dasharray="4.3 3.1"/>
<path d="M389.50,622.60C390.25,622.90 392.23,624.90 394.00,624.40C395.77,623.90 398.18,620.05 400.10,619.60C402.02,619.15 403.68,622.40 405.50,621.70C407.32,621.00 409.48,616.05 411.00,615.40C412.52,614.75 413.55,616.40 414.60,617.80C415.65,619.20 416.60,624.40 417.30,623.80C418.00,623.20 418.35,617.32 418.80,614.20C419.25,611.08 419.55,608.33 420.00,605.10C420.45,601.87 421.10,597.32 421.50,594.80C421.90,592.28 421.97,593.72 422.40,590.00C422.83,586.28 423.45,577.43 424.10,572.50C424.75,567.57 425.55,563.30 426.30,560.40C427.05,557.50 427.72,554.60 428.60,555.10C429.48,555.60 430.85,560.00 431.60,563.40C432.35,566.80 432.50,569.27 433.10,575.50C433.70,581.73 434.43,599.78 435.20,600.80C435.97,601.82 436.92,588.33 437.70,581.60C438.48,574.87 439.15,567.70 439.90,560.40C440.65,553.10 441.32,544.35 442.20,537.80C443.08,531.25 444.40,524.38 445.20,521.10C446.00,517.82 445.98,517.72 447.00,518.10C448.02,518.48 450.08,523.40 451.30,523.40C452.52,523.40 453.67,519.72 454.30,518.10C454.93,516.48 454.58,517.47 455.10,513.70C455.62,509.93 456.65,501.80 457.40,495.50C458.15,489.20 458.85,481.43 459.60,475.90C460.35,470.37 461.13,465.32 461.90,462.30C462.67,459.28 463.32,457.30 464.20,457.80C465.08,458.30 466.32,461.53 467.20,465.30C468.08,469.07 468.75,474.87 469.50,480.40C470.25,485.93 470.95,492.65 471.70,498.50C472.45,504.35 473.32,510.57 474.00,515.50C474.68,520.43 475.20,522.07 475.80,528.10C476.40,534.13 476.98,544.75 477.60,551.70C478.22,558.65 478.73,563.77 479.50,569.80C480.27,575.83 481.15,583.07 482.20,587.90C483.25,592.73 484.60,595.48 485.80,598.80C487.00,602.12 488.20,604.78 489.40,607.80C490.60,610.82 491.93,614.48 493.00,616.90C494.07,619.32 494.87,622.17 495.80,622.30C496.73,622.43 497.62,620.08 498.60,617.70C499.58,615.32 500.78,611.22 501.70,608.00C502.62,604.78 503.20,601.42 504.10,598.40C505.00,595.38 506.00,592.53 507.10,589.90C508.20,587.27 509.50,585.02 510.70,582.60C511.90,580.18 513.18,577.62 514.30,575.40C515.42,573.18 516.38,571.02 517.40,569.30C518.42,567.58 519.40,565.30 520.40,565.10C521.40,564.90 522.50,566.18 523.40,568.10C524.30,570.02 524.98,573.57 525.80,576.60C526.62,579.63 527.48,583.07 528.30,586.30C529.12,589.53 529.90,592.98 530.70,596.00C531.50,599.02 532.10,602.40 533.10,604.40C534.10,606.40 535.50,606.68 536.70,608.00C537.90,609.32 539.28,611.38 540.30,612.30C541.32,613.22 541.88,613.80 542.80,613.50C543.72,613.20 544.70,611.10 545.80,610.50C546.90,609.90 548.40,609.10 549.40,609.90C550.40,610.70 550.77,612.63 551.80,615.30C552.83,617.97 554.45,625.67 555.60,625.90C556.75,626.13 557.50,619.43 558.70,616.70C559.90,613.97 561.43,609.68 562.80,609.50C564.17,609.32 565.55,612.87 566.90,615.60C568.25,618.33 569.55,625.22 570.90,625.90C572.25,626.58 573.88,620.55 575.00,619.70C576.12,618.85 576.57,619.52 577.60,620.80C578.63,622.08 580.02,627.58 581.20,627.40C582.38,627.22 583.52,621.40 584.70,619.70C585.88,618.00 587.10,617.20 588.30,617.20C589.50,617.20 590.80,618.25 591.90,619.70C593.00,621.15 593.88,626.07 594.90,625.90C595.92,625.73 596.63,620.83 598.00,618.70C599.37,616.57 601.48,613.27 603.10,613.10C604.72,612.93 606.33,615.83 607.70,617.70C609.07,619.57 610.28,622.77 611.30,624.30C612.32,625.83 612.33,626.55 613.80,626.90C615.27,627.25 618.03,627.25 620.10,626.40C622.17,625.55 623.98,622.15 626.20,621.80C628.42,621.45 631.02,624.30 633.40,624.30C635.78,624.30 638.20,621.45 640.50,621.80C642.80,622.15 645.32,626.67 647.20,626.40C649.08,626.13 650.35,621.48 651.80,620.20C653.25,618.92 654.37,618.35 655.90,618.70C657.43,619.05 659.30,621.02 661.00,622.30C662.70,623.58 664.40,625.55 666.10,626.40C667.80,627.25 669.33,627.67 671.20,627.40C673.07,627.13 675.33,625.05 677.30,624.80C679.27,624.55 682.05,625.72 683.00,625.90" stroke="#1a1a1a"/>
<path d="M389.50,622.60C390.25,623.22 392.23,626.60 394.00,626.30C395.77,626.00 397.98,620.85 400.10,620.80C402.22,620.75 404.58,626.20 406.70,626.00C408.82,625.80 411.38,620.17 412.80,619.60C414.22,619.03 414.40,621.18 415.20,622.60C416.00,624.02 416.90,628.50 417.60,628.10C418.30,627.70 418.70,623.53 419.40,620.20C420.10,616.87 420.98,612.13 421.80,608.10C422.62,604.07 423.58,598.62 424.30,596.00C425.02,593.38 425.38,593.05 426.10,592.40C426.82,591.75 427.70,591.67 428.60,592.10C429.50,592.53 430.50,594.02 431.50,595.00C432.50,595.98 433.68,599.33 434.60,598.00C435.52,596.67 436.23,590.75 437.00,587.00C437.77,583.25 438.47,578.92 439.20,575.50C439.93,572.08 440.78,568.25 441.40,566.50C442.02,564.75 442.13,564.25 442.90,565.00C443.67,565.75 444.92,567.98 446.00,571.00C447.08,574.02 448.40,584.37 449.40,583.10C450.40,581.83 451.18,570.95 452.00,563.40C452.82,555.85 453.63,544.37 454.30,537.80C454.97,531.23 455.48,527.63 456.00,524.00C456.52,520.37 456.92,518.48 457.40,516.00C457.88,513.52 458.40,510.75 458.90,509.10C459.40,507.45 459.77,505.85 460.40,506.10C461.03,506.35 462.07,508.58 462.70,510.60C463.33,512.62 463.67,513.47 464.20,518.20C464.73,522.93 465.02,531.92 465.90,539.00C466.78,546.08 468.30,554.67 469.50,560.70C470.70,566.73 471.90,570.97 473.10,575.20C474.30,579.43 475.63,582.17 476.70,586.10C477.77,590.03 478.58,594.88 479.50,598.80C480.42,602.72 481.15,608.10 482.20,609.60C483.25,611.10 484.60,608.55 485.80,607.80C487.00,607.05 488.03,604.65 489.40,605.10C490.77,605.55 492.63,609.13 494.00,610.50C495.37,611.87 496.32,613.50 497.60,613.30C498.88,613.10 500.52,609.77 501.70,609.30C502.88,608.83 503.60,609.50 504.70,610.50C505.80,611.50 506.90,613.80 508.30,615.30C509.70,616.80 511.48,619.40 513.10,619.50C514.72,619.60 516.38,616.80 518.00,615.90C519.62,615.00 521.30,613.80 522.80,614.10C524.30,614.40 525.58,616.08 527.00,617.70C528.42,619.32 529.78,623.40 531.30,623.80C532.82,624.20 534.48,621.02 536.10,620.10C537.72,619.18 539.38,619.00 541.00,618.30C542.62,617.60 544.20,616.70 545.80,615.90C547.40,615.10 549.22,614.05 550.60,613.50C551.98,612.95 552.50,612.33 554.10,612.60C555.70,612.87 557.98,614.60 560.20,615.10C562.42,615.60 565.18,615.17 567.40,615.60C569.62,616.03 571.47,616.83 573.50,617.70C575.53,618.57 577.73,620.97 579.60,620.80C581.47,620.63 583.17,617.65 584.70,616.70C586.23,615.75 587.43,614.93 588.80,615.10C590.17,615.27 591.53,616.42 592.90,617.70C594.27,618.98 595.63,621.27 597.00,622.80C598.37,624.33 599.40,626.22 601.10,626.90C602.80,627.58 605.17,627.07 607.20,626.90C609.23,626.73 611.15,626.58 613.30,625.90C615.45,625.22 618.12,623.75 620.10,622.80C622.08,621.85 623.33,620.53 625.20,620.20C627.07,619.87 629.25,620.62 631.30,620.80C633.35,620.98 635.28,621.40 637.50,621.30C639.72,621.20 642.38,620.63 644.60,620.20C646.82,619.77 648.92,619.03 650.80,618.70C652.68,618.37 654.20,617.77 655.90,618.20C657.60,618.63 659.30,620.37 661.00,621.30C662.70,622.23 664.23,623.55 666.10,623.80C667.97,624.05 670.17,622.88 672.20,622.80C674.23,622.72 676.50,623.30 678.30,623.30C680.10,623.30 682.22,622.88 683.00,622.80" stroke="#ff0000"/>
</g>
<text x="350.29" y="350.00" font-size="15.00" font-weight="bold" fill="#000" textLength="10.89" lengthAdjust="spacingAndGlyphs">d</text>
<text x="443.35" y="435.60" font-size="8.80" fill="#333" textLength="23.68" lengthAdjust="spacingAndGlyphs">Cu–O</text>
<text x="499.93" y="542.90" font-size="9.00" fill="#333" textLength="36.90" lengthAdjust="spacingAndGlyphs">Cu–Al/Si</text>
<line x1="588.9" y1="359.0" x2="608.8" y2="359.0" stroke="#4a4a4a" stroke-width="1.10" stroke-dasharray="4.4 3.2"/>
<text x="614.75" y="361.80" font-size="9.20" fill="#242424" textLength="20.15" lengthAdjust="spacingAndGlyphs">7/1.3</text>
<line x1="588.9" y1="371.3" x2="608.8" y2="371.3" stroke="#ff5050" stroke-width="1.10" stroke-dasharray="4.4 3.2"/>
<text x="614.54" y="374.30" font-size="9.20" fill="#242424" textLength="24.56" lengthAdjust="spacingAndGlyphs">14/1.3</text>
<line x1="588.9" y1="383.5" x2="608.8" y2="383.5" stroke="#4a4a4a" stroke-width="1.10"/>
<text x="614.74" y="386.30" font-size="9.20" fill="#242424" textLength="61.69" lengthAdjust="spacingAndGlyphs">7/1.3 with HCN</text>
<line x1="588.9" y1="395.8" x2="608.8" y2="395.8" stroke="#ff5050" stroke-width="1.10"/>
<text x="614.52" y="398.60" font-size="9.20" fill="#242424" textLength="66.32" lengthAdjust="spacingAndGlyphs">14/1.3 with HCN</text>
<text x="478.58" y="365.00" font-size="10.00" fill="#242424" textLength="41.99" lengthAdjust="spacingAndGlyphs">NO + NH</text>
<text x="520.67" y="368.00" font-size="6.30" fill="#242424" textLength="4.62" lengthAdjust="spacingAndGlyphs">3</text>
<text x="528.01" y="365.00" font-size="10.00" fill="#242424" textLength="5.78" lengthAdjust="spacingAndGlyphs">+</text>
<text x="536.20" y="365.00" font-size="10.00" fill="#242424" textLength="8.63" lengthAdjust="spacingAndGlyphs">O</text>
<text x="544.26" y="368.00" font-size="6.30" fill="#242424" textLength="4.89" lengthAdjust="spacingAndGlyphs">2</text>
<text x="551.25" y="365.00" font-size="10.00" fill="#242424" textLength="5.30" lengthAdjust="spacingAndGlyphs">+</text>
<text x="559.76" y="365.00" font-size="10.00" fill="#242424" textLength="6.71" lengthAdjust="spacingAndGlyphs">H</text>
<text x="566.17" y="368.00" font-size="6.30" fill="#242424" textLength="4.77" lengthAdjust="spacingAndGlyphs">2</text>
<text x="571.41" y="365.00" font-size="10.00" fill="#242424" textLength="8.40" lengthAdjust="spacingAndGlyphs">O</text>
<text x="479.12" y="378.10" font-size="10.20" fill="#242424" textLength="34.57" lengthAdjust="spacingAndGlyphs">450 °C</text>
<g stroke="#8c8c8c" stroke-width="1" fill="none">
<rect x="389.5" y="351.5" width="294.0" height="277.0"/>
<line x1="383.2" y1="588.85" x2="389.5" y2="588.85"/>
<line x1="383.2" y1="549.25" x2="389.5" y2="549.25"/>
<line x1="383.2" y1="509.65" x2="389.5" y2="509.65"/>
<line x1="383.2" y1="470.05" x2="389.5" y2="470.05"/>
<line x1="383.2" y1="430.50" x2="389.5" y2="430.50"/>
<line x1="383.2" y1="390.80" x2="389.5" y2="390.80"/>
<line x1="383.2" y1="628.45" x2="389.5" y2="628.45"/>
<line x1="383.2" y1="351.50" x2="389.5" y2="351.50"/>
<line x1="389.45" y1="628.5" x2="389.45" y2="633.9"/>
<line x1="487.40" y1="628.5" x2="487.40" y2="633.9"/>
<line x1="585.35" y1="628.5" x2="585.35" y2="633.9"/>
<line x1="683.30" y1="628.5" x2="683.30" y2="633.9"/>
</g>
<text x="372.99" y="630.17" font-size="9.20" fill="#242424" textLength="5.63" lengthAdjust="spacingAndGlyphs">0</text>
<text x="373.09" y="590.57" font-size="9.20" fill="#242424" textLength="5.63" lengthAdjust="spacingAndGlyphs">1</text>
<text x="373.09" y="550.97" font-size="9.20" fill="#242424" textLength="5.63" lengthAdjust="spacingAndGlyphs">2</text>
<text x="373.04" y="511.37" font-size="9.20" fill="#242424" textLength="5.63" lengthAdjust="spacingAndGlyphs">3</text>
<text x="372.89" y="471.77" font-size="9.20" fill="#242424" textLength="5.63" lengthAdjust="spacingAndGlyphs">4</text>
<text x="372.99" y="432.22" font-size="9.20" fill="#242424" textLength="5.63" lengthAdjust="spacingAndGlyphs">5</text>
<text x="373.04" y="392.52" font-size="9.20" fill="#242424" textLength="5.63" lengthAdjust="spacingAndGlyphs">6</text>
<text x="373.09" y="353.22" font-size="9.20" fill="#242424" textLength="5.63" lengthAdjust="spacingAndGlyphs">7</text>
<text x="386.34" y="644.70" font-size="9.20" fill="#242424" textLength="5.63" lengthAdjust="spacingAndGlyphs">0</text>
<text x="484.29" y="644.70" font-size="9.20" fill="#242424" textLength="5.63" lengthAdjust="spacingAndGlyphs">2</text>
<text x="582.27" y="644.70" font-size="9.20" fill="#242424" textLength="5.63" lengthAdjust="spacingAndGlyphs">4</text>
<text x="680.17" y="644.70" font-size="9.20" fill="#242424" textLength="5.63" lengthAdjust="spacingAndGlyphs">6</text>
<text x="524.64" y="659.70" font-size="10.00" font-style="italic" fill="#242424" textLength="6.24" lengthAdjust="spacingAndGlyphs">R</text>
<text x="533.45" y="659.70" font-size="10.00" fill="#242424" textLength="14.54" lengthAdjust="spacingAndGlyphs">(Å)</text>
<g transform="translate(364.80,340.00) rotate(-90)">
<text x="-177.36" y="0.00" font-size="10.00" fill="#242424" textLength="11.56" lengthAdjust="spacingAndGlyphs">FT</text>
<text x="-162.94" y="0.00" font-size="10.00" font-style="italic" fill="#242424" textLength="4.57" lengthAdjust="spacingAndGlyphs">k</text>
<text x="-157.51" y="-5.00" font-size="6.80" fill="#242424" textLength="4.26" lengthAdjust="spacingAndGlyphs">3</text>
<text x="-150.16" y="0.00" font-size="10.00" fill="#242424" textLength="9.36" lengthAdjust="spacingAndGlyphs">(Å</text>
<text x="-140.25" y="-5.00" font-size="6.80" fill="#242424" textLength="7.96" lengthAdjust="spacingAndGlyphs">−4</text>
<text x="-131.39" y="0.00" font-size="10.00" fill="#242424" textLength="3.07" lengthAdjust="spacingAndGlyphs">)</text>
</g>
</svg>
</body></html>
